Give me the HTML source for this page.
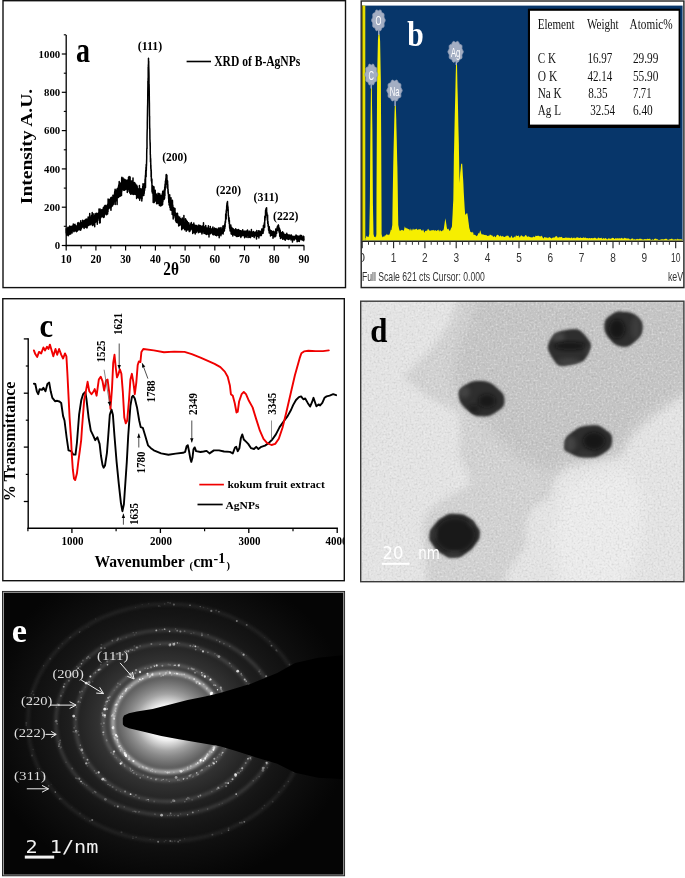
<!DOCTYPE html>
<html lang="en"><head><meta charset="utf-8"><title>Characterization of B-AgNPs</title>
<style>html,body{margin:0;padding:0;background:#fff}svg{display:block}text{white-space:pre}</style>
</head><body>
<svg width="685" height="878" viewBox="0 0 685 878">
<rect width="685" height="878" fill="#fff"/>
<g id="panel-a">
<rect x="3" y="0.7" width="342.5" height="286.9" fill="#fff" stroke="#111" stroke-width="1.4"/>
<polyline fill="none" stroke="#000" stroke-width="1.5" stroke-linejoin="round" stroke-linecap="round" points="66.2,228.8 66.3,232.9 66.3,231.9 66.4,231.2 66.5,233.4 66.6,231.9 66.6,231.8 66.7,235.2 66.8,229.8 66.9,230.6 66.9,232.9 67,232 67.1,230.7 67.2,232.1 67.2,232.1 67.3,234.4 67.4,230.4 67.5,231.2 67.5,230.9 67.6,234.4 67.7,228.1 67.8,231 67.8,232.1 67.9,227.3 68,231.3 68.1,234.1 68.1,232 68.2,235.7 68.3,229 68.4,231.9 68.4,232.5 68.5,228.9 68.6,234.3 68.7,229.9 68.7,235 68.8,232.2 68.9,233.3 68.9,227.9 69,227.2 69.1,231.4 69.2,229 69.2,231 69.3,229.5 69.4,232.1 69.5,234 69.5,234.2 69.6,229.7 69.7,225.9 69.8,229.9 69.8,231.5 69.9,226.5 70,229.8 70.1,230.1 70.1,229.7 70.2,230.5 70.3,230.8 70.4,233.1 70.4,229.1 70.5,230.3 70.6,227.6 70.7,230.8 70.7,233.9 70.8,230.2 70.9,226.4 71,230.7 71,231.7 71.1,232.3 71.2,232 71.3,230.4 71.3,232.2 71.4,226.6 71.5,230.3 71.5,229.4 71.6,226.6 71.7,226.4 71.8,230 71.8,228.8 71.9,227.9 72,229.8 72.1,233.1 72.1,228 72.2,227.4 72.3,228.4 72.4,231.2 72.4,229.6 72.5,230.4 72.6,229.8 72.7,226.4 72.7,225.8 72.8,227.6 72.9,227.9 73,227.5 73,229 73.1,229.1 73.2,230.3 73.3,229 73.3,224 73.4,226.9 73.5,229.5 73.6,229.7 73.6,230.5 73.7,227.8 73.8,227.8 73.9,231.7 73.9,227.5 74,229.7 74.1,225.4 74.2,228.1 74.2,224.7 74.3,229.4 74.4,229 74.4,227.7 74.5,226 74.6,227 74.7,230.9 74.7,227.8 74.8,228.1 74.9,229.1 75,229.5 75,224.2 75.1,228.9 75.2,229.8 75.3,226.5 75.3,227.6 75.4,228 75.5,226.1 75.6,226.7 75.6,227 75.7,225.6 75.8,227.1 75.9,229 75.9,228.4 76,228.8 76.1,227.1 76.2,229.9 76.2,231.6 76.3,227.3 76.4,230.4 76.5,231.8 76.5,226.5 76.6,228.9 76.7,226.2 76.8,228.5 76.8,229.8 76.9,230 77,228.3 77,227.8 77.1,229 77.2,227.7 77.3,230.5 77.3,227 77.4,231 77.5,227.4 77.6,225.3 77.6,224.4 77.7,223 77.8,230.3 77.9,225 77.9,224 78,224.5 78.1,228.8 78.2,225.7 78.2,222.4 78.3,230 78.4,225.4 78.5,224 78.5,228.1 78.6,225.1 78.7,228.9 78.8,228.2 78.8,228.2 78.9,225.9 79,226.5 79.1,224 79.1,228.4 79.2,226.5 79.3,223.9 79.4,224.8 79.4,229.1 79.5,224.5 79.6,227.1 79.6,225.1 79.7,225.2 79.8,223.1 79.9,225.6 79.9,230.1 80,229 80.1,224.1 80.2,226.3 80.2,223 80.3,225 80.4,227.4 80.5,223.1 80.5,227.4 80.6,230.3 80.7,220.7 80.8,229.9 80.8,223.9 80.9,223.2 81,225 81.1,229.3 81.1,222.9 81.2,228.6 81.3,228.4 81.4,226 81.4,223.3 81.5,224.4 81.6,223.1 81.7,226.1 81.7,225.4 81.8,227.6 81.9,225.7 82,223.4 82,225.5 82.1,223.6 82.2,226.1 82.2,226.1 82.3,224.6 82.4,225.1 82.5,223.2 82.5,224.1 82.6,220.3 82.7,225 82.8,225 82.8,226.9 82.9,224.3 83,222.7 83.1,226.1 83.1,224.4 83.2,222.5 83.3,224.5 83.4,225.4 83.4,221.7 83.5,223.8 83.6,223.1 83.7,221.1 83.7,221.2 83.8,224.7 83.9,225.1 84,223.1 84,224.1 84.1,228.4 84.2,220.6 84.3,223.6 84.3,221.8 84.4,226.5 84.5,220.4 84.6,225 84.6,223.7 84.7,226.9 84.8,223.8 84.8,223.9 84.9,223.8 85,222.2 85.1,223.1 85.1,220.8 85.2,224.3 85.3,225.6 85.4,223.1 85.4,221.5 85.5,219.9 85.6,221 85.7,227.3 85.7,222 85.8,219.2 85.9,222.7 86,224.1 86,222 86.1,224 86.2,221.1 86.3,222.7 86.3,219.1 86.4,221.3 86.5,224.3 86.6,221 86.6,220.1 86.7,223.8 86.8,223.4 86.9,228.1 86.9,220 87,223.7 87.1,227.6 87.2,226.6 87.2,222.7 87.3,220.2 87.4,222.3 87.4,220.8 87.5,224.8 87.6,225.4 87.7,219.6 87.7,220.6 87.8,221.9 87.9,218.5 88,224.2 88,222.8 88.1,219 88.2,216.9 88.3,221.6 88.3,217.2 88.4,223.1 88.5,220.6 88.6,221.9 88.6,225.5 88.7,220.7 88.8,218.9 88.9,221.7 88.9,221.4 89,217.6 89.1,224.4 89.2,225 89.2,222.8 89.3,224.2 89.4,217.5 89.5,220.2 89.5,223.2 89.6,222.5 89.7,213.4 89.8,222.4 89.8,222.8 89.9,220 90,219 90.1,220.1 90.1,223 90.2,223.6 90.3,219 90.3,220.7 90.4,224.8 90.5,217.4 90.6,218.4 90.6,221 90.7,221 90.8,219.7 90.9,222.1 90.9,223.8 91,219.3 91.1,223.9 91.2,219.1 91.2,223.9 91.3,220.3 91.4,220.3 91.5,215.2 91.5,222.7 91.6,223.6 91.7,221.5 91.8,222.8 91.8,221.3 91.9,218.6 92,217.6 92.1,215.2 92.1,221.6 92.2,212.5 92.3,214.2 92.4,220 92.4,225.6 92.5,219.6 92.6,219.2 92.7,225.5 92.7,219.1 92.8,219.8 92.9,221.3 92.9,217.5 93,216.4 93.1,220.4 93.2,218.4 93.2,220.8 93.3,221.1 93.4,218.7 93.5,217.5 93.5,220.4 93.6,224.8 93.7,217.2 93.8,223.1 93.8,218.4 93.9,213.8 94,218.7 94.1,221.8 94.1,222.5 94.2,215.3 94.3,218.5 94.4,217 94.4,215.9 94.5,218.5 94.6,219.2 94.7,220.9 94.7,226.7 94.8,222.4 94.9,218.4 95,218.6 95,217 95.1,218.4 95.2,217.6 95.3,215.8 95.3,220.4 95.4,218.7 95.5,222.3 95.5,215.1 95.6,217.7 95.7,216.4 95.8,213.4 95.8,214.7 95.9,217.8 96,215.4 96.1,221.5 96.1,216.2 96.2,217 96.3,221.8 96.4,213.6 96.4,219.2 96.5,215.3 96.6,218.3 96.7,214.3 96.7,213.3 96.8,219.3 96.9,221.2 97,217.2 97,214.4 97.1,217.8 97.2,218.4 97.3,215.2 97.3,224.3 97.4,218.4 97.5,220.4 97.6,215.6 97.6,218.4 97.7,219.4 97.8,217.2 97.9,220.3 97.9,216.1 98,218 98.1,217.1 98.1,218 98.2,213.3 98.3,216.1 98.4,214.3 98.4,214.3 98.5,218 98.6,214 98.7,214.5 98.7,214.6 98.8,216.6 98.9,216.6 99,213.1 99,209 99.1,217.6 99.2,213.6 99.3,216.2 99.3,212.8 99.4,213.7 99.5,211.9 99.6,223 99.6,216.6 99.7,217.6 99.8,215 99.9,216.8 99.9,216.5 100,212.5 100.1,208.9 100.2,222.7 100.2,215.3 100.3,213.4 100.4,214.2 100.5,215.2 100.5,218.1 100.6,216.9 100.7,211.9 100.7,210.8 100.8,213.6 100.9,216.3 101,213.5 101,214.5 101.1,212.1 101.2,213.3 101.3,215.4 101.3,213 101.4,217 101.5,211 101.6,209.8 101.6,216.8 101.7,212 101.8,216.1 101.9,209.9 101.9,210.4 102,213.7 102.1,210 102.2,214.2 102.2,214.8 102.3,214.5 102.4,213.2 102.5,213.6 102.5,212.2 102.6,214.4 102.7,210.2 102.8,209.4 102.8,213.9 102.9,216.6 103,210.1 103.1,208.8 103.1,212.7 103.2,216 103.3,211.2 103.4,207.4 103.4,217.6 103.5,210.4 103.6,212.8 103.6,214.4 103.7,210.2 103.8,215.6 103.9,210.7 103.9,207.5 104,211 104.1,214.1 104.2,216.8 104.2,215.3 104.3,216.9 104.4,206.3 104.5,211.9 104.5,214.3 104.6,215 104.7,214.3 104.8,212 104.8,214.8 104.9,205.6 105,213 105.1,213 105.1,209.6 105.2,206 105.3,206.3 105.4,211.8 105.4,209.4 105.5,209.7 105.6,208.4 105.7,209.1 105.7,212.8 105.8,213.7 105.9,209.1 106,213.3 106,205.2 106.1,209.3 106.2,212.6 106.2,210.3 106.3,210.8 106.4,209.5 106.5,206 106.5,213.5 106.6,214.8 106.7,207.7 106.8,209.2 106.8,208.1 106.9,207.1 107,209 107.1,205.8 107.1,211.1 107.2,208 107.3,210.8 107.4,211.6 107.4,205.9 107.5,206 107.6,214 107.7,211.3 107.7,206.6 107.8,204 107.9,209.6 108,207.9 108,211.8 108.1,199 108.2,205.5 108.3,204.1 108.3,204.8 108.4,203.8 108.5,204.8 108.6,207.8 108.6,204.1 108.7,206.2 108.8,202.2 108.8,208.7 108.9,208 109,204 109.1,201.9 109.1,205.5 109.2,208.2 109.3,206.2 109.4,207.4 109.4,199.4 109.5,202.6 109.6,201.3 109.7,204.4 109.7,207.2 109.8,201.3 109.9,199.6 110,203.1 110,205.1 110.1,201.3 110.2,206 110.3,202.2 110.3,207 110.4,207.8 110.5,202.6 110.6,203.2 110.6,197.9 110.7,205.2 110.8,204 110.9,207.8 110.9,210.2 111,209.8 111.1,202 111.2,207.5 111.2,199.5 111.3,198.4 111.4,204 111.4,197.3 111.5,202 111.6,198.8 111.7,203.3 111.7,199.1 111.8,205.5 111.9,200 112,203.6 112,202.3 112.1,199.6 112.2,201 112.3,201.7 112.3,198.8 112.4,198.4 112.5,205.9 112.6,199 112.6,198.5 112.7,203.3 112.8,199.2 112.9,205.1 112.9,195.2 113,201 113.1,200.3 113.2,195.6 113.2,200.3 113.3,197.5 113.4,203.2 113.5,201.4 113.5,204.2 113.6,199.8 113.7,195.3 113.8,198 113.8,195.5 113.9,202.2 114,201.6 114,200 114.1,196.1 114.2,196.7 114.3,198 114.3,195.5 114.4,198.2 114.5,197.6 114.6,192.6 114.6,199.4 114.7,196.4 114.8,191.1 114.9,196.5 114.9,194.1 115,198.8 115.1,189.3 115.2,204.6 115.2,200.3 115.3,199.9 115.4,189.9 115.5,194.5 115.5,196.6 115.6,200.3 115.7,194 115.8,194.8 115.8,197.7 115.9,200.5 116,199 116.1,193.9 116.1,193.4 116.2,194.2 116.3,194.9 116.4,200.8 116.4,193.9 116.5,197.8 116.6,193.6 116.6,191.9 116.7,196.1 116.8,197.3 116.9,189.5 116.9,191.9 117,195.5 117.1,204.4 117.2,193 117.2,190.4 117.3,188.4 117.4,195.1 117.5,194.9 117.5,194 117.6,189 117.7,196.6 117.8,192.4 117.8,195.4 117.9,190.7 118,197.6 118.1,190.1 118.1,193.4 118.2,192.2 118.3,189.2 118.4,186.7 118.4,197.6 118.5,187 118.6,188.6 118.7,191.8 118.7,185.1 118.8,189.7 118.9,185.3 119,192.6 119,193.5 119.1,185.2 119.2,181.5 119.3,187.3 119.3,186.2 119.4,191.4 119.5,194.7 119.5,190.3 119.6,183.4 119.7,196.5 119.8,191 119.8,196.5 119.9,188.4 120,185.3 120.1,193.5 120.1,190.1 120.2,183.1 120.3,188.6 120.4,193.1 120.4,193.3 120.5,195.9 120.6,184.8 120.7,190.7 120.7,183.4 120.8,184.1 120.9,190 121,189.4 121,184.1 121.1,186.5 121.2,185.9 121.3,193.5 121.3,183.1 121.4,190.1 121.5,195.6 121.6,188.9 121.6,184.6 121.7,177.7 121.8,187.6 121.9,191.3 121.9,177.3 122,185.1 122.1,186.7 122.1,189.9 122.2,189.5 122.3,179.3 122.4,186.3 122.4,187.3 122.5,187.1 122.6,178.5 122.7,187.2 122.7,182.2 122.8,183.6 122.9,183.7 123,188.2 123,181.9 123.1,178 123.2,184.7 123.3,188.2 123.3,189.7 123.4,183.6 123.5,185.5 123.6,184.8 123.6,184.3 123.7,190.3 123.8,181 123.9,183.2 123.9,184.5 124,183.2 124.1,180.3 124.2,183.8 124.2,187.5 124.3,179.2 124.4,185.7 124.5,186.9 124.5,190.3 124.6,183.8 124.7,188.1 124.7,185.9 124.8,181.9 124.9,183.6 125,179.5 125,182.4 125.1,185.2 125.2,184.9 125.3,185.6 125.3,180.8 125.4,183.3 125.5,185.1 125.6,179.9 125.6,182.9 125.7,185.3 125.8,189.6 125.9,181.6 125.9,182.4 126,183.2 126.1,185.2 126.2,186.9 126.2,184.4 126.3,182.5 126.4,184 126.5,184.1 126.5,185.4 126.6,182.1 126.7,182.6 126.8,186.7 126.8,180.4 126.9,180.3 127,180.3 127.1,184.2 127.1,184.4 127.2,188.4 127.3,180.6 127.3,192.5 127.4,185.3 127.5,185.1 127.6,180.2 127.6,183.7 127.7,187.7 127.8,189.6 127.9,186.8 127.9,183.4 128,183.6 128.1,184.6 128.2,186.7 128.2,184.7 128.3,179.8 128.4,188.4 128.5,183.8 128.5,177.3 128.6,181.7 128.7,185.9 128.8,181.4 128.8,187.2 128.9,184.2 129,178 129.1,176.6 129.1,191.4 129.2,181.7 129.3,176.7 129.4,186.9 129.4,183.7 129.5,178.7 129.6,186.9 129.7,183.1 129.7,185.3 129.8,192.9 129.9,183.8 129.9,186 130,181.6 130.1,176.9 130.2,182.7 130.2,187 130.3,183.8 130.4,184.9 130.5,181.7 130.5,191.6 130.6,190.6 130.7,194.2 130.8,183.6 130.8,186.2 130.9,188.8 131,189.2 131.1,188.6 131.1,190.1 131.2,187.8 131.3,188.5 131.4,181.1 131.4,185.4 131.5,190.1 131.6,189.2 131.7,182.1 131.7,185.2 131.8,185.9 131.9,184.3 132,180.9 132,192.1 132.1,190.3 132.2,194.3 132.3,185.5 132.3,189.1 132.4,190.3 132.5,190.7 132.5,185 132.6,188.4 132.7,190 132.8,183 132.8,192.2 132.9,193.1 133,178 133.1,189.7 133.1,190.5 133.2,191.3 133.3,189 133.4,185.5 133.4,185.7 133.5,186.5 133.6,189.8 133.7,194.6 133.7,187.8 133.8,183 133.9,184.8 134,189.7 134,186 134.1,190.7 134.2,189.5 134.3,194.2 134.3,190.6 134.4,188.9 134.5,190.2 134.6,186.6 134.6,182.4 134.7,184.7 134.8,191 134.9,192.8 134.9,192.6 135,193.9 135.1,190.1 135.2,188.7 135.2,189.7 135.3,189.7 135.4,189.9 135.4,191.1 135.5,193.5 135.6,184.1 135.7,186.8 135.7,194.4 135.8,194.5 135.9,193.3 136,191 136,186.4 136.1,187.4 136.2,187.3 136.3,187.3 136.3,187.3 136.4,188.8 136.5,190 136.6,192.2 136.6,198.4 136.7,192.4 136.8,185.2 136.9,194.1 136.9,194.5 137,188.4 137.1,192 137.2,194.2 137.2,186.6 137.3,190.2 137.4,189.7 137.5,194.7 137.5,190.8 137.6,191.4 137.7,189.9 137.8,188.6 137.8,188.8 137.9,192.4 138,190.5 138,197.4 138.1,190.9 138.2,190.8 138.3,194.8 138.3,196.3 138.4,193.7 138.5,198 138.6,192.4 138.6,192.6 138.7,197.2 138.8,193.6 138.9,189.9 138.9,190 139,190.3 139.1,194.6 139.2,195.3 139.2,195.6 139.3,192 139.4,185.6 139.5,189.2 139.5,188.6 139.6,189.5 139.7,200.3 139.8,195.2 139.8,196.1 139.9,190 140,188.5 140.1,197 140.1,194.5 140.2,192.7 140.3,196.5 140.4,197.1 140.4,197.3 140.5,191.7 140.6,198.1 140.6,190.7 140.7,194.4 140.8,192 140.9,189.1 140.9,197 141,197.5 141.1,193 141.2,198.2 141.2,197 141.3,194.8 141.4,193.8 141.5,198.7 141.5,195.6 141.6,192 141.7,189.2 141.8,201 141.8,189.2 141.9,190.7 142,197.6 142.1,198.9 142.1,192.1 142.2,195 142.3,192.9 142.4,190.2 142.4,194.5 142.5,192.5 142.6,191.2 142.7,189.6 142.7,186.4 142.8,186.5 142.9,191.5 143,193.1 143,183.7 143.1,189.7 143.2,190.2 143.2,195.5 143.3,188.6 143.4,193.9 143.5,192.6 143.5,195.5 143.6,192.4 143.7,190.1 143.8,195.4 143.8,193 143.9,189.8 144,193.7 144.1,193.4 144.1,191.6 144.2,193.3 144.3,185.8 144.4,191.1 144.4,184.5 144.5,183.6 144.6,190.6 144.7,185.8 144.7,187.2 144.8,189 144.9,185.6 145,184.7 145,180.8 145.1,179.1 145.2,185.8 145.3,182.7 145.3,178.7 145.4,175.6 145.5,187.4 145.6,173.5 145.6,177.6 145.7,170.6 145.8,176.4 145.8,176.7 145.9,172.4 146,167.2 146.1,169.8 146.1,176.7 146.2,164.4 146.3,170.8 146.4,166.8 146.4,165.5 146.5,165.8 146.6,161.5 146.7,158.3 146.7,154.4 146.8,149.8 146.9,147.9 147,148.8 147,141 147.1,133.4 147.2,129.8 147.3,128.7 147.3,122.9 147.4,117.5 147.5,111.3 147.6,105.4 147.6,107.5 147.7,102.3 147.8,91.2 147.9,85.8 147.9,80.9 148,89.7 148.1,77.8 148.2,84.3 148.2,66.9 148.3,66.4 148.4,64.3 148.5,63.6 148.5,58.2 148.6,64.2 148.7,60.9 148.7,64.7 148.8,68.3 148.9,71.5 149,76.8 149,85.5 149.1,84 149.2,89 149.3,97.1 149.3,99.1 149.4,103.6 149.5,116.2 149.6,117 149.6,122.6 149.7,128.6 149.8,128.5 149.9,136.6 149.9,138.9 150,140 150.1,143 150.2,146.2 150.2,142.4 150.3,154.7 150.4,154.6 150.5,162.1 150.5,158.4 150.6,158.2 150.7,159.9 150.8,168.2 150.8,168.6 150.9,164.9 151,171.1 151.1,168.9 151.1,176.9 151.2,170 151.3,172.4 151.3,175.4 151.4,180.9 151.5,179.6 151.6,179.5 151.6,180 151.7,182.1 151.8,183.2 151.9,182.5 151.9,179.1 152,191.5 152.1,190 152.2,191.1 152.2,188.7 152.3,192.9 152.4,185.5 152.5,187.6 152.5,189.3 152.6,191.2 152.7,188.7 152.8,189 152.8,188.9 152.9,192.9 153,188.5 153.1,196.2 153.1,187.1 153.2,202.4 153.3,194.1 153.4,196.5 153.4,189.9 153.5,198 153.6,186.8 153.7,198.7 153.7,186.6 153.8,192.3 153.9,193.9 153.9,192.8 154,186.9 154.1,191.6 154.2,202.5 154.2,190.9 154.3,194.4 154.4,200.9 154.5,192.9 154.5,199.9 154.6,195.2 154.7,195.2 154.8,198.4 154.8,194 154.9,199.9 155,195.9 155.1,198.5 155.1,197.4 155.2,190.3 155.3,196.6 155.4,200.9 155.4,197.6 155.5,200 155.6,197.4 155.7,197 155.7,197.3 155.8,197.4 155.9,199.7 156,196.4 156,194.4 156.1,200.2 156.2,198.4 156.3,198 156.3,194 156.4,194.7 156.5,201 156.5,198.3 156.6,203.7 156.7,202 156.8,198.7 156.8,196.6 156.9,195.6 157,200 157.1,203.6 157.1,197.7 157.2,199.7 157.3,197.7 157.4,198.6 157.4,196.8 157.5,197 157.6,196.4 157.7,200.9 157.7,196 157.8,201.1 157.9,199.2 158,193.2 158,198.3 158.1,203.6 158.2,194.5 158.3,196.2 158.3,195.8 158.4,199 158.5,198.6 158.6,200.6 158.6,202.2 158.7,194.6 158.8,201.1 158.9,201.5 158.9,201.4 159,193.6 159.1,196.9 159.1,201.2 159.2,200.1 159.3,198.2 159.4,197 159.4,205.5 159.5,196.9 159.6,200.7 159.7,202.3 159.7,201.3 159.8,197.3 159.9,194 160,199.5 160,198.1 160.1,202.8 160.2,198.3 160.3,197.2 160.3,205 160.4,201.7 160.5,197.3 160.6,205.9 160.6,201.2 160.7,197.9 160.8,205.6 160.9,201.2 160.9,199.7 161,196.8 161.1,204.1 161.2,196 161.2,198.7 161.3,195.6 161.4,195.7 161.5,198.4 161.5,197.9 161.6,205.4 161.7,204 161.7,202.8 161.8,200.5 161.9,196.1 162,205.2 162,200.2 162.1,203.5 162.2,204.2 162.3,193.9 162.3,198.4 162.4,193.2 162.5,194.6 162.6,201.6 162.6,204.6 162.7,191.3 162.8,199.5 162.9,201.9 162.9,195.6 163,197.3 163.1,199.9 163.2,198.7 163.2,196.9 163.3,197 163.4,194.6 163.5,198.1 163.5,197.9 163.6,194.5 163.7,195.3 163.8,192.5 163.8,196.7 163.9,196 164,199.2 164.1,190.1 164.1,199.4 164.2,193.8 164.3,197.1 164.4,192.7 164.4,190.9 164.5,198.4 164.6,193.3 164.6,197.9 164.7,187 164.8,192.6 164.9,195.8 164.9,192.4 165,185.2 165.1,184 165.2,184.1 165.2,190.2 165.3,187.5 165.4,180.9 165.5,188 165.5,186 165.6,187.3 165.7,187.3 165.8,178.8 165.8,180 165.9,179.9 166,178.9 166.1,176.8 166.1,174.7 166.2,179.1 166.3,179.8 166.4,181.6 166.4,174.5 166.5,179.5 166.6,182.6 166.7,178.6 166.7,177.8 166.8,175.4 166.9,175.1 167,181.2 167,181.9 167.1,180.9 167.2,184.4 167.2,181.5 167.3,180.4 167.4,182.5 167.5,188.6 167.5,188.1 167.6,180.9 167.7,189.2 167.8,184.4 167.8,185.6 167.9,189.4 168,192.4 168.1,189.3 168.1,193.6 168.2,192.1 168.3,191.9 168.4,195.2 168.4,194.3 168.5,195.2 168.6,198.8 168.7,196.1 168.7,198.1 168.8,202.4 168.9,198.2 169,198.5 169,200 169.1,205.1 169.2,196.5 169.3,197.3 169.3,197.8 169.4,199.2 169.5,204.6 169.6,200.6 169.6,204.2 169.7,194.7 169.8,203.6 169.8,200.2 169.9,207.4 170,206.5 170.1,204.8 170.1,201.2 170.2,201.9 170.3,203 170.4,209.9 170.4,200.8 170.5,207.5 170.6,199.8 170.7,199.2 170.7,202.6 170.8,202.3 170.9,209.5 171,197.8 171,205.3 171.1,203 171.2,209 171.3,206.7 171.3,210.3 171.4,207.5 171.5,206.9 171.6,206.3 171.6,202.9 171.7,205.9 171.8,206.8 171.9,207.7 171.9,201.8 172,210 172.1,204.8 172.2,214.6 172.2,211.5 172.3,207.8 172.4,209.7 172.4,200.3 172.5,201.8 172.6,214.3 172.7,213.2 172.7,210.5 172.8,205.1 172.9,207.1 173,209.7 173,215 173.1,213.5 173.2,219.1 173.3,215.9 173.3,210.2 173.4,209.3 173.5,215.7 173.6,211.7 173.6,207.4 173.7,211.9 173.8,213.4 173.9,210.9 173.9,211.3 174,212.7 174.1,214.7 174.2,214.5 174.2,213.2 174.3,215.2 174.4,209.9 174.5,211.4 174.5,211 174.6,208.5 174.7,209.9 174.8,210.5 174.8,213.6 174.9,215.4 175,208.5 175,217 175.1,217 175.2,217.9 175.3,215 175.3,214.6 175.4,213 175.5,216.7 175.6,221 175.6,215.5 175.7,213.8 175.8,216.5 175.9,217.1 175.9,215.4 176,213.2 176.1,217.4 176.2,221.2 176.2,219 176.3,218 176.4,222.5 176.5,215.6 176.5,219.8 176.6,216.4 176.7,217.4 176.8,218.8 176.8,213.7 176.9,219.6 177,220 177.1,217.5 177.1,216.1 177.2,218.4 177.3,221.1 177.4,216.7 177.4,217 177.5,213.2 177.6,219.4 177.7,218.3 177.7,220.4 177.8,222.9 177.9,218.9 177.9,216.9 178,221.9 178.1,221.1 178.2,222.4 178.2,215.9 178.3,221.2 178.4,218 178.5,221.9 178.5,219.5 178.6,221.4 178.7,226 178.8,219.7 178.8,218.6 178.9,225.5 179,220.6 179.1,221.3 179.1,223 179.2,221 179.3,225.4 179.4,219.8 179.4,217.5 179.5,223.8 179.6,220.8 179.7,217.1 179.7,220.5 179.8,222.2 179.9,223.3 180,220.5 180,221.4 180.1,219.5 180.2,225.1 180.3,218.5 180.3,222.4 180.4,219.8 180.5,223.3 180.5,224.8 180.6,223 180.7,224.1 180.8,222.7 180.8,220.2 180.9,219.1 181,221.4 181.1,223.3 181.1,223.2 181.2,220.6 181.3,219.4 181.4,223.1 181.4,222.6 181.5,224.3 181.6,221.9 181.7,220.1 181.7,229.8 181.8,222 181.9,224.1 182,228.5 182,222.1 182.1,223.1 182.2,222.1 182.3,226.4 182.3,217.9 182.4,222.9 182.5,224.1 182.6,219.6 182.6,221.8 182.7,221.4 182.8,220.7 182.9,228.6 182.9,219.6 183,224.5 183.1,223.1 183.1,221.6 183.2,225.6 183.3,223.2 183.4,222.2 183.4,224.2 183.5,223 183.6,228 183.7,227.1 183.7,227.1 183.8,223.5 183.9,215.6 184,223.9 184,224.9 184.1,224.8 184.2,222.4 184.3,223.1 184.3,227.5 184.4,222.5 184.5,225 184.6,223.1 184.6,229.8 184.7,228.8 184.8,223.8 184.9,229.5 184.9,224.4 185,224.6 185.1,225.1 185.2,224.7 185.2,224.9 185.3,224.5 185.4,226.5 185.5,225.6 185.5,218.8 185.6,223 185.7,224.2 185.7,224.7 185.8,227.4 185.9,225.2 186,226.3 186,223.5 186.1,227.9 186.2,231.2 186.3,227.1 186.3,224.2 186.4,220.2 186.5,223.5 186.6,228.1 186.6,226.4 186.7,228.1 186.8,226.4 186.9,228 186.9,229.7 187,225 187.1,225.6 187.2,226.4 187.2,225.2 187.3,221.4 187.4,225.8 187.5,227 187.5,224.1 187.6,229.9 187.7,224.4 187.8,227.9 187.8,228.1 187.9,226 188,222.4 188.1,228 188.1,224.1 188.2,225.4 188.3,229.5 188.3,224.2 188.4,228.2 188.5,229.7 188.6,228.2 188.6,228.1 188.7,225.1 188.8,228.1 188.9,223.1 188.9,226 189,228.1 189.1,228.4 189.2,226 189.2,231.1 189.3,231.5 189.4,228.6 189.5,225.2 189.5,226.2 189.6,226.6 189.7,227.1 189.8,231.6 189.8,227.4 189.9,230.7 190,224.9 190.1,226.8 190.1,227 190.2,225.9 190.3,226.1 190.4,226.3 190.4,226.1 190.5,228.2 190.6,229.9 190.7,226.1 190.7,223.7 190.8,224.7 190.9,227.4 190.9,225.6 191,228 191.1,226.2 191.2,228.4 191.2,226.7 191.3,222.6 191.4,225.4 191.5,223.8 191.5,228.9 191.6,228.7 191.7,227.3 191.8,225.9 191.8,227.7 191.9,225 192,228.5 192.1,224.2 192.1,225.1 192.2,229.8 192.3,226 192.4,227.8 192.4,225.1 192.5,228.6 192.6,226.7 192.7,226.2 192.7,233.5 192.8,231.6 192.9,227.2 193,227.8 193,225.2 193.1,227 193.2,230.3 193.3,226.8 193.3,229.2 193.4,228.1 193.5,228.7 193.6,226.8 193.6,230.8 193.7,230.1 193.8,232.6 193.8,223 193.9,229.9 194,229.6 194.1,230.3 194.1,229.2 194.2,228.7 194.3,226.4 194.4,227.4 194.4,227.1 194.5,229.1 194.6,228 194.7,225.2 194.7,228 194.8,227.3 194.9,232.4 195,226.8 195,227.4 195.1,225.2 195.2,234 195.3,228 195.3,228.3 195.4,227.9 195.5,229.5 195.6,227.7 195.6,226.6 195.7,228.1 195.8,228.8 195.9,228.7 195.9,229.1 196,228.2 196.1,229.8 196.2,232.6 196.2,225.4 196.3,232.1 196.4,228.6 196.4,231.2 196.5,229 196.6,230.5 196.7,228.5 196.7,230.3 196.8,231.3 196.9,227.8 197,225.6 197,227.8 197.1,228.3 197.2,230.8 197.3,228.8 197.3,227.6 197.4,230 197.5,226.7 197.6,228.7 197.6,227.9 197.7,229.8 197.8,229.8 197.9,228.3 197.9,227.9 198,228 198.1,231 198.2,230.4 198.2,228.9 198.3,232.8 198.4,226.6 198.5,228.2 198.5,228.8 198.6,230.4 198.7,227.2 198.8,229.5 198.8,224.9 198.9,228.2 199,232.2 199,227.5 199.1,230.2 199.2,230.2 199.3,229.6 199.3,229.4 199.4,228.6 199.5,227.5 199.6,228.2 199.6,230.7 199.7,232 199.8,230.9 199.9,228.5 199.9,227.4 200,225.5 200.1,232.1 200.2,229.1 200.2,229.8 200.3,230.2 200.4,229.1 200.5,229.9 200.5,229.9 200.6,230.8 200.7,228.6 200.8,227.2 200.8,226 200.9,230.6 201,231.7 201.1,230 201.1,231.3 201.2,227.4 201.3,231.2 201.4,229.4 201.4,232.4 201.5,230.3 201.6,229.2 201.6,226.4 201.7,231.1 201.8,228.9 201.9,234 201.9,232.2 202,231.4 202.1,230.7 202.2,228.8 202.2,228.4 202.3,233.1 202.4,228.7 202.5,232.1 202.5,226 202.6,229.2 202.7,229.5 202.8,230.2 202.8,229.9 202.9,229.9 203,231.3 203.1,228.4 203.1,229.4 203.2,228.4 203.3,230.1 203.4,228.6 203.4,231.5 203.5,222.7 203.6,231.5 203.7,230.9 203.7,228.1 203.8,227.5 203.9,231.7 204,233.5 204,233 204.1,232.2 204.2,231.7 204.2,230.5 204.3,228.1 204.4,228 204.5,231.4 204.5,229.1 204.6,228.4 204.7,227.4 204.8,230.6 204.8,231.8 204.9,228.8 205,227.2 205.1,231.4 205.1,226.4 205.2,226.9 205.3,230.9 205.4,233.6 205.4,231.6 205.5,231.1 205.6,229.3 205.7,233.8 205.7,225.5 205.8,225.7 205.9,231.9 206,234.3 206,230.9 206.1,229.7 206.2,227.8 206.3,229.1 206.3,231 206.4,234.6 206.5,229.6 206.6,228.9 206.6,231.3 206.7,230.1 206.8,230.3 206.8,231.2 206.9,233 207,230 207.1,233.6 207.1,227.9 207.2,232.6 207.3,229.8 207.4,232.2 207.4,230 207.5,231.2 207.6,229.8 207.7,232.4 207.7,234.1 207.8,231.4 207.9,231.6 208,233.9 208,232.3 208.1,234.3 208.2,230.7 208.3,231.7 208.3,230.9 208.4,225.8 208.5,230.7 208.6,230.3 208.6,229.8 208.7,231.3 208.8,232.2 208.9,229.3 208.9,229 209,236.9 209.1,231.4 209.2,231.8 209.2,232.3 209.3,228.7 209.4,232.2 209.5,229.5 209.5,232.3 209.6,232 209.7,229.8 209.7,232.7 209.8,231.6 209.9,233.4 210,233 210,229.9 210.1,230.2 210.2,233.6 210.3,233.7 210.3,226.4 210.4,232.6 210.5,233.1 210.6,230.4 210.6,232.9 210.7,232.1 210.8,229.7 210.9,229.5 210.9,231.8 211,228.9 211.1,231.8 211.2,232 211.2,231.5 211.3,232.1 211.4,230.5 211.5,231 211.5,233.1 211.6,231.2 211.7,232.6 211.8,232.7 211.8,231.9 211.9,229.7 212,231.1 212.1,229.2 212.1,228.6 212.2,231.7 212.3,232.9 212.3,233.2 212.4,231.2 212.5,230.1 212.6,228.7 212.6,234.3 212.7,230 212.8,229.7 212.9,227.1 212.9,231.4 213,231.9 213.1,234.7 213.2,233.3 213.2,234 213.3,233.8 213.4,233.6 213.5,234.8 213.5,232.1 213.6,231.2 213.7,230.5 213.8,232.1 213.8,229.9 213.9,229.9 214,234.8 214.1,232.5 214.1,234.3 214.2,233.8 214.3,231.6 214.4,232.2 214.4,229.2 214.5,228.1 214.6,231.2 214.7,232.4 214.7,232.3 214.8,232.1 214.9,231 214.9,233.5 215,231 215.1,232.5 215.2,230.1 215.2,229.5 215.3,228.8 215.4,232.4 215.5,234.7 215.5,235.3 215.6,232.7 215.7,234.8 215.8,235.2 215.8,232.8 215.9,234 216,230.8 216.1,228.5 216.1,232.6 216.2,231.6 216.3,235.1 216.4,231.8 216.4,233.5 216.5,234.2 216.6,235.7 216.7,229.2 216.7,235.2 216.8,234.4 216.9,232.2 217,231.6 217,231.6 217.1,232 217.2,233.8 217.3,230.7 217.3,231.8 217.4,234.9 217.5,229.2 217.5,232.8 217.6,230.4 217.7,234.9 217.8,234.4 217.8,233.2 217.9,233.5 218,230.3 218.1,235.2 218.1,231.9 218.2,234.1 218.3,231.2 218.4,231.8 218.4,233.2 218.5,228 218.6,232.2 218.7,230.1 218.7,234.6 218.8,232.4 218.9,232 219,231.9 219,232.8 219.1,233.7 219.2,237.8 219.3,233.2 219.3,233.8 219.4,232.6 219.5,230.5 219.6,228 219.6,231.1 219.7,230.2 219.8,230.9 219.9,230.7 219.9,230.9 220,232.5 220.1,232.6 220.1,231.4 220.2,228.7 220.3,230.5 220.4,229 220.4,234.3 220.5,231.4 220.6,231.2 220.7,230.9 220.7,234.3 220.8,235.2 220.9,235.7 221,232.5 221,227.5 221.1,231.3 221.2,233.9 221.3,231 221.3,232.2 221.4,231.3 221.5,232.4 221.6,233.9 221.6,232.5 221.7,230.2 221.8,230.9 221.9,229.2 221.9,233.3 222,229.4 222.1,231.1 222.2,230.8 222.2,228.9 222.3,231.3 222.4,230.5 222.5,229.7 222.5,229.7 222.6,229.3 222.7,228.3 222.8,229.6 222.8,231.3 222.9,226 223,230.3 223,229.5 223.1,231.4 223.2,233.9 223.3,231.3 223.3,229.6 223.4,228.6 223.5,229.4 223.6,227.9 223.6,227.4 223.7,227.2 223.8,228.9 223.9,228.5 223.9,228.9 224,229.9 224.1,225.5 224.2,230.2 224.2,227.8 224.3,227.1 224.4,231.1 224.5,225.6 224.5,227.3 224.6,226 224.7,226.7 224.8,228.5 224.8,225.1 224.9,224.9 225,222.9 225.1,223.4 225.1,226.9 225.2,221.4 225.3,221.4 225.4,220.9 225.4,220.9 225.5,222.5 225.6,219.6 225.6,220.6 225.7,214 225.8,218.9 225.9,219.7 225.9,217.5 226,213.5 226.1,216.3 226.2,218.7 226.2,210.7 226.3,211.8 226.4,212.4 226.5,209.2 226.5,211.2 226.6,210.7 226.7,206 226.8,207.8 226.8,205.1 226.9,205.3 227,203.2 227.1,204 227.1,207.6 227.2,202.4 227.3,204.4 227.4,202 227.4,203.7 227.5,201.6 227.6,205.3 227.7,209 227.7,206.6 227.8,205.9 227.9,208.3 228,209.4 228,206.9 228.1,210.8 228.2,209.6 228.2,212.2 228.3,216 228.4,216 228.5,215.8 228.5,215.5 228.6,218.4 228.7,220.3 228.8,220.3 228.8,220.2 228.9,221.5 229,221.6 229.1,217.8 229.1,221.3 229.2,223.8 229.3,222.9 229.4,220.5 229.4,222.6 229.5,224.4 229.6,227.1 229.7,228.1 229.7,226 229.8,226 229.9,229 230,228.8 230,226.8 230.1,231 230.2,230.3 230.3,227.6 230.3,226.7 230.4,227.3 230.5,226.3 230.6,225.5 230.6,226.9 230.7,229.2 230.8,225 230.8,226 230.9,227.5 231,230.8 231.1,228.7 231.1,233.4 231.2,230.3 231.3,234.3 231.4,230.7 231.4,228.2 231.5,230.1 231.6,227.3 231.7,230.3 231.7,230.2 231.8,231.1 231.9,229.6 232,230.7 232,228.6 232.1,227.9 232.2,230.2 232.3,233 232.3,230 232.4,228.6 232.5,230 232.6,230.7 232.6,229.6 232.7,228.9 232.8,236.1 232.9,228.7 232.9,230.1 233,230.6 233.1,232.6 233.2,231.2 233.2,230.5 233.3,234.4 233.4,230.4 233.4,231.6 233.5,229.1 233.6,230.6 233.7,232.2 233.7,231.8 233.8,230.8 233.9,231.7 234,231 234,233.3 234.1,234.3 234.2,233.1 234.3,234.7 234.3,233.5 234.4,231.5 234.5,235.1 234.6,234.4 234.6,230.9 234.7,233.2 234.8,232.3 234.9,234.6 234.9,234.2 235,232.9 235.1,229.5 235.2,231.6 235.2,235.5 235.3,231.7 235.4,230.8 235.5,231.3 235.5,234.8 235.6,232.7 235.7,228.8 235.8,234.3 235.8,232 235.9,234 236,235 236,233.5 236.1,230.9 236.2,230.6 236.3,234.3 236.3,233.6 236.4,234.4 236.5,236.5 236.6,231.7 236.6,230 236.7,230.2 236.8,233.7 236.9,230.5 236.9,230.9 237,233.5 237.1,232.9 237.2,233.6 237.2,232.5 237.3,229.7 237.4,234.6 237.5,235.1 237.5,231.4 237.6,232.9 237.7,236.4 237.8,234.8 237.8,234.5 237.9,234.1 238,232.5 238.1,231.3 238.1,233.4 238.2,232.8 238.3,234.4 238.4,231.3 238.4,230.7 238.5,233.6 238.6,234.5 238.7,229.5 238.7,231.5 238.8,234.8 238.9,236.2 238.9,233.7 239,231.1 239.1,234.2 239.2,233.7 239.2,234.1 239.3,232.1 239.4,230.8 239.5,235.5 239.5,233.8 239.6,233.7 239.7,234.4 239.8,235.4 239.8,231.9 239.9,233.1 240,232.1 240.1,230.7 240.1,234 240.2,232.4 240.3,234.1 240.4,233.6 240.4,232.8 240.5,233.7 240.6,236.1 240.7,230.8 240.7,233.2 240.8,235.5 240.9,237.4 241,233.5 241,232.3 241.1,231.7 241.2,231.5 241.3,234.2 241.3,232.4 241.4,236.2 241.5,233.3 241.5,231.9 241.6,234.6 241.7,233.8 241.8,233.4 241.8,233.3 241.9,230.9 242,235.5 242.1,231.2 242.1,235.8 242.2,234.8 242.3,235 242.4,233.8 242.4,234.5 242.5,232.8 242.6,233.6 242.7,229.8 242.7,233 242.8,234.1 242.9,233 243,232.6 243,234 243.1,235.6 243.2,235.1 243.3,233.4 243.3,232.2 243.4,232.9 243.5,233.9 243.6,232.7 243.6,234.6 243.7,233.3 243.8,231.3 243.9,231.8 243.9,231.4 244,234.4 244.1,233.4 244.1,235.6 244.2,232.2 244.3,234.5 244.4,236.1 244.4,234.7 244.5,233.4 244.6,237.7 244.7,236.3 244.7,232.1 244.8,233.7 244.9,233.9 245,236.7 245,231.1 245.1,232.1 245.2,232.7 245.3,235.8 245.3,232.9 245.4,231.9 245.5,234.5 245.6,234.3 245.6,234.7 245.7,232.9 245.8,234.3 245.9,234.5 245.9,236.5 246,236.8 246.1,232.3 246.2,231.2 246.2,232.5 246.3,231.5 246.4,234.9 246.5,234.1 246.5,233.3 246.6,234.3 246.7,231.1 246.7,236.3 246.8,235 246.9,234.6 247,235.3 247,232.6 247.1,237.5 247.2,232.1 247.3,232.5 247.3,233.5 247.4,231.6 247.5,230 247.6,233.8 247.6,232.8 247.7,233.4 247.8,233.2 247.9,235 247.9,235.3 248,233 248.1,235 248.2,232.5 248.2,232.7 248.3,234.9 248.4,233.5 248.5,234 248.5,234.4 248.6,232.2 248.7,234.1 248.8,233.7 248.8,237.5 248.9,233.1 249,236.6 249.1,234.8 249.1,231.4 249.2,231.1 249.3,234.8 249.3,236.3 249.4,233.5 249.5,234.8 249.6,233.6 249.6,236.5 249.7,232.3 249.8,231.5 249.9,236.7 249.9,235.5 250,235.4 250.1,232.9 250.2,237.6 250.2,233.8 250.3,234.6 250.4,235.6 250.5,233 250.5,237.6 250.6,236.6 250.7,235.6 250.8,233 250.8,234.8 250.9,235.7 251,233.4 251.1,235.1 251.1,235.3 251.2,234.8 251.3,233.7 251.4,229.6 251.4,236.1 251.5,233.8 251.6,234.5 251.7,234.7 251.7,231.7 251.8,232.9 251.9,233.1 252,235 252,235.7 252.1,233.8 252.2,234.7 252.2,235.2 252.3,233.1 252.4,236.3 252.5,235.5 252.5,232.9 252.6,234.4 252.7,233.1 252.8,235.7 252.8,233.1 252.9,235.5 253,232 253.1,232.9 253.1,233.5 253.2,231.7 253.3,233.7 253.4,235.3 253.4,231.6 253.5,233.7 253.6,232.2 253.7,234 253.7,232.3 253.8,235.7 253.9,236.4 254,236.6 254,233 254.1,237.6 254.2,237.3 254.3,236.7 254.3,233.9 254.4,233.5 254.5,235.6 254.6,232.9 254.6,233.7 254.7,232.2 254.8,232.7 254.8,235.4 254.9,233.9 255,234.5 255.1,233.5 255.1,233.9 255.2,234.2 255.3,233 255.4,234.1 255.4,233 255.5,234.2 255.6,234.5 255.7,232.7 255.7,232.6 255.8,232.1 255.9,233.2 256,234.6 256,233.9 256.1,233.9 256.2,237.1 256.3,236.1 256.3,231.6 256.4,234.3 256.5,239 256.6,234.4 256.6,233.9 256.7,236.2 256.8,230.4 256.9,232.3 256.9,232.8 257,234.5 257.1,233.3 257.2,232.7 257.2,233.3 257.3,235.2 257.4,233.8 257.4,233.9 257.5,233.6 257.6,235.8 257.7,233.6 257.7,234.1 257.8,233.7 257.9,233.7 258,236.4 258,232.6 258.1,232.8 258.2,236.3 258.3,234.2 258.3,235.4 258.4,234.7 258.5,232.3 258.6,233.1 258.6,230.7 258.7,233.8 258.8,235.8 258.9,233.7 258.9,237.9 259,230.9 259.1,233.4 259.2,233.1 259.2,233.6 259.3,235.2 259.4,234 259.5,235.1 259.5,234.6 259.6,233.2 259.7,235.7 259.8,231 259.8,235.4 259.9,232.3 260,234.7 260,235.6 260.1,232.9 260.2,233.2 260.3,233.9 260.3,233.5 260.4,234.4 260.5,232.7 260.6,234.1 260.6,233.3 260.7,231.4 260.8,235.4 260.9,234.1 260.9,234.2 261,234.4 261.1,235.2 261.2,233.4 261.2,232.6 261.3,233 261.4,235.4 261.5,231.6 261.5,231.4 261.6,232.4 261.7,234.1 261.8,233.8 261.8,229.1 261.9,229.3 262,231.3 262.1,233.5 262.1,229.8 262.2,231.5 262.3,228.9 262.4,232.5 262.4,230.6 262.5,231.6 262.6,229.9 262.6,232 262.7,229.3 262.8,231.3 262.9,231.9 262.9,229.3 263,229.7 263.1,233.3 263.2,229.7 263.2,229.3 263.3,228.9 263.4,225.6 263.5,229.7 263.5,228.4 263.6,230.9 263.7,230.2 263.8,228.4 263.8,227.4 263.9,227.1 264,225.4 264.1,224.8 264.1,223.9 264.2,225.4 264.3,223.8 264.4,225.3 264.4,223 264.5,222.3 264.6,223.3 264.7,227.2 264.7,222.3 264.8,216.4 264.9,220.1 265,220.3 265,218.3 265.1,215.9 265.2,216.5 265.2,216.6 265.3,217.6 265.4,215.2 265.5,215.9 265.5,212.7 265.6,210.1 265.7,210.2 265.8,212.3 265.8,212.4 265.9,212.6 266,209.3 266.1,208.8 266.1,208.3 266.2,209 266.3,211.5 266.4,212.9 266.4,208.2 266.5,211.7 266.6,207.7 266.7,214.8 266.7,213.7 266.8,214.1 266.9,212.8 267,212.9 267,215.6 267.1,214.5 267.2,218.4 267.3,217.9 267.3,219.8 267.4,219.5 267.5,220.3 267.6,219.5 267.6,215 267.7,223.6 267.8,222.3 267.9,221.5 267.9,223 268,221.4 268.1,225.9 268.1,223.5 268.2,226.5 268.3,224.3 268.4,225.8 268.4,226.1 268.5,227.8 268.6,230.3 268.7,229.4 268.7,226.7 268.8,228.6 268.9,227.3 269,230.9 269,228 269.1,227.7 269.2,233.1 269.3,229.2 269.3,226.8 269.4,231.4 269.5,228.7 269.6,230.5 269.6,229.3 269.7,231.5 269.8,232.3 269.9,231.9 269.9,231.9 270,232.4 270.1,233 270.2,229.9 270.2,232.8 270.3,233.9 270.4,233.6 270.5,231.4 270.5,235.9 270.6,231.5 270.7,231.3 270.7,230.4 270.8,233.3 270.9,234 271,232.5 271,232.6 271.1,230.8 271.2,232.9 271.3,233.7 271.3,235.2 271.4,233.5 271.5,233.1 271.6,231.3 271.6,233.1 271.7,231.1 271.8,231.4 271.9,234.7 271.9,235.3 272,234.5 272.1,233.9 272.2,234.9 272.2,232.5 272.3,232.5 272.4,231.7 272.5,233.2 272.5,234.4 272.6,233.1 272.7,235.2 272.8,233.5 272.8,235 272.9,231.9 273,238.2 273.1,232.5 273.1,232.4 273.2,234 273.3,233.4 273.3,233.6 273.4,231.8 273.5,231.3 273.6,233.9 273.6,231.3 273.7,235 273.8,233.3 273.9,233.3 273.9,236 274,233.4 274.1,235 274.2,232.7 274.2,235.4 274.3,236.8 274.4,236 274.5,233.9 274.5,233.4 274.6,233.3 274.7,235.1 274.8,232.5 274.8,234.7 274.9,234.1 275,232.1 275.1,233.9 275.1,236.7 275.2,232.4 275.3,233.5 275.4,234.1 275.4,231.3 275.5,234.4 275.6,232.2 275.7,233 275.7,228.9 275.8,235.9 275.9,232.6 275.9,232.2 276,230.9 276.1,233.2 276.2,233.4 276.2,230 276.3,232.8 276.4,231.5 276.5,231.8 276.5,230.9 276.6,233.5 276.7,232 276.8,230.9 276.8,230.4 276.9,228.6 277,229.2 277.1,228.8 277.1,229.5 277.2,227.1 277.3,229.7 277.4,228.6 277.4,230.5 277.5,229.5 277.6,226.1 277.7,227.3 277.7,229.9 277.8,226.8 277.9,226.9 278,228.2 278,225.8 278.1,226.7 278.2,226.3 278.3,225 278.3,227.6 278.4,225.1 278.5,227.5 278.5,227.8 278.6,225.6 278.7,227.4 278.8,229 278.8,228.9 278.9,228.7 279,231.7 279.1,228.7 279.1,230.1 279.2,232.5 279.3,232.2 279.4,229.7 279.4,233.3 279.5,228.2 279.6,233.5 279.7,231.8 279.7,236.3 279.8,232.7 279.9,233.6 280,232.2 280,232.8 280.1,233.8 280.2,230.1 280.3,232.4 280.3,234.9 280.4,233.3 280.5,238.5 280.6,235 280.6,232.3 280.7,235.2 280.8,234.2 280.9,236.3 280.9,233.4 281,234.5 281.1,234.8 281.1,233.4 281.2,232.4 281.3,233.8 281.4,237.8 281.4,234.5 281.5,234.8 281.6,237 281.7,237.8 281.7,236 281.8,235.9 281.9,235.6 282,236.6 282,235.3 282.1,235.1 282.2,236.1 282.3,235.1 282.3,236.6 282.4,238.2 282.5,235.8 282.6,234.5 282.6,231.7 282.7,239.2 282.8,236.7 282.9,237.3 282.9,235.6 283,237.4 283.1,235.8 283.2,234.5 283.2,237.2 283.3,236.2 283.4,233.7 283.5,234.8 283.5,238.7 283.6,233 283.7,237.3 283.8,235.8 283.8,236.9 283.9,237 284,237.4 284,235.4 284.1,237.5 284.2,238.3 284.3,237.3 284.3,236.4 284.4,239.5 284.5,235.2 284.6,237.6 284.6,235.4 284.7,234.4 284.8,236 284.9,235.7 284.9,237.2 285,237.6 285.1,239.5 285.2,236.9 285.2,237.5 285.3,240.2 285.4,236.2 285.5,234.4 285.5,236.1 285.6,234.9 285.7,237.1 285.8,238.3 285.8,236.6 285.9,237.3 286,238.5 286.1,235.2 286.1,236.5 286.2,237.8 286.3,236.5 286.4,237.1 286.4,235.9 286.5,234.5 286.6,237.8 286.6,238.7 286.7,234.8 286.8,233.3 286.9,237.8 286.9,238.3 287,238.8 287.1,237 287.2,236.8 287.2,237.4 287.3,235.7 287.4,238.2 287.5,237.9 287.5,238.9 287.6,235 287.7,235.4 287.8,235.1 287.8,238.3 287.9,235.1 288,236.7 288.1,236 288.1,236.2 288.2,237.6 288.3,237.4 288.4,239.4 288.4,238 288.5,237.5 288.6,238.9 288.7,237 288.7,235.3 288.8,237.9 288.9,238.6 289,238.5 289,237 289.1,234.7 289.2,237 289.2,237.2 289.3,239.1 289.4,236.8 289.5,236.4 289.5,237.9 289.6,237.4 289.7,238.3 289.8,236.3 289.8,235.4 289.9,236.8 290,236.6 290.1,237.3 290.1,238.3 290.2,238.5 290.3,238 290.4,237.3 290.4,237.4 290.5,236 290.6,236.4 290.7,235.3 290.7,236.3 290.8,237.8 290.9,237.3 291,239.9 291,235.1 291.1,238.4 291.2,238.1 291.3,234.9 291.3,239.1 291.4,238.5 291.5,237.7 291.6,238.4 291.6,237.4 291.7,237.2 291.8,236.7 291.8,237.8 291.9,236.6 292,238.1 292.1,236.8 292.1,235.9 292.2,240.1 292.3,238 292.4,237.4 292.4,240.4 292.5,242.1 292.6,237.2 292.7,238.6 292.7,236.5 292.8,237.7 292.9,237.7 293,238.2 293,237.5 293.1,239 293.2,238.4 293.3,236.6 293.3,238.1 293.4,237 293.5,237.7 293.6,238.2 293.6,239.1 293.7,236.5 293.8,238.9 293.9,237.2 293.9,240 294,237.3 294.1,237.2 294.2,238.7 294.2,240.1 294.3,238 294.4,237.6 294.4,238.5 294.5,238.7 294.6,236.5 294.7,237.9 294.7,238.4 294.8,236.6 294.9,237.8 295,238.8 295,236.5 295.1,238.3 295.2,236.5 295.3,238.8 295.3,237.3 295.4,236 295.5,237.1 295.6,237.1 295.6,237.2 295.7,236.6 295.8,237.7 295.9,237.2 295.9,238.1 296,235.1 296.1,239.1 296.2,236.6 296.2,239.2 296.3,237.1 296.4,236 296.5,239.4 296.5,235.3 296.6,239.2 296.7,239 296.8,237.4 296.8,239.4 296.9,236.5 297,237.2 297.1,241.7 297.1,239.9 297.2,238.9 297.3,237.3 297.3,239.4 297.4,238.9 297.5,237 297.6,239.3 297.6,237.5 297.7,239.8 297.8,236.5 297.9,235.9 297.9,239.5 298,241.3 298.1,240.3 298.2,236.6 298.2,238.7 298.3,236.4 298.4,239.8 298.5,239.3 298.5,238.1 298.6,236.4 298.7,238.3 298.8,239.4 298.8,237.5 298.9,237.8 299,237.3 299.1,238.2 299.1,238.9 299.2,237.9 299.3,241.5 299.4,237.6 299.4,236.3 299.5,237.2 299.6,239.3 299.7,240.2 299.7,236.1 299.8,238.7 299.9,238.3 299.9,237.7 300,238.8 300.1,238 300.2,235.9 300.2,238.7 300.3,235.3 300.4,237.5 300.5,237.6 300.5,236.7 300.6,236.7 300.7,236.6 300.8,237.3 300.8,238.9 300.9,235.7 301,238.3 301.1,239.2 301.1,236.8 301.2,237.1 301.3,238.1 301.4,238 301.4,237.2 301.5,235.4 301.6,238.2 301.7,239.8 301.7,238.9 301.8,237.4 301.9,238.4 302,239 302,237.1 302.1,237.1 302.2,238.4 302.3,237.7 302.3,239 302.4,239 302.5,238.6 302.5,240 302.6,237.6 302.7,238.2 302.8,238.8 302.8,238 302.9,237.9 303,239.2 303.1,239 303.1,239.3 303.2,236.3 303.3,240.5 303.4,238.3 303.4,237 303.5,239.7 303.6,239.5 303.7,239.6 303.7,240.7 303.8,236.6 303.9,238.6 304,239.8"/>
<line x1="66.2" y1="34.9" x2="66.2" y2="246.2" stroke="#000" stroke-width="1.3"/>
<line x1="65.5" y1="245.5" x2="304.2" y2="245.5" stroke="#000" stroke-width="1.3"/>
<line x1="61.8" y1="245.5" x2="66.2" y2="245.5" stroke="#000" stroke-width="1.2"/>
<text x="60.2" y="249.2" font-family="'Liberation Serif', serif" font-size="10.8" fill="#000" text-anchor="end" font-weight="bold">0</text>
<line x1="63.8" y1="226.3" x2="66.2" y2="226.3" stroke="#000" stroke-width="1.1"/>
<line x1="61.8" y1="207.2" x2="66.2" y2="207.2" stroke="#000" stroke-width="1.2"/>
<text x="60.2" y="210.9" font-family="'Liberation Serif', serif" font-size="10.8" fill="#000" text-anchor="end" font-weight="bold">200</text>
<line x1="63.8" y1="188.1" x2="66.2" y2="188.1" stroke="#000" stroke-width="1.1"/>
<line x1="61.8" y1="168.9" x2="66.2" y2="168.9" stroke="#000" stroke-width="1.2"/>
<text x="60.2" y="172.6" font-family="'Liberation Serif', serif" font-size="10.8" fill="#000" text-anchor="end" font-weight="bold">400</text>
<line x1="63.8" y1="149.8" x2="66.2" y2="149.8" stroke="#000" stroke-width="1.1"/>
<line x1="61.8" y1="130.6" x2="66.2" y2="130.6" stroke="#000" stroke-width="1.2"/>
<text x="60.2" y="134.3" font-family="'Liberation Serif', serif" font-size="10.8" fill="#000" text-anchor="end" font-weight="bold">600</text>
<line x1="63.8" y1="111.4" x2="66.2" y2="111.4" stroke="#000" stroke-width="1.1"/>
<line x1="61.8" y1="92.3" x2="66.2" y2="92.3" stroke="#000" stroke-width="1.2"/>
<text x="60.2" y="96" font-family="'Liberation Serif', serif" font-size="10.8" fill="#000" text-anchor="end" font-weight="bold">800</text>
<line x1="63.8" y1="73.2" x2="66.2" y2="73.2" stroke="#000" stroke-width="1.1"/>
<line x1="61.8" y1="54" x2="66.2" y2="54" stroke="#000" stroke-width="1.2"/>
<text x="60.2" y="57.7" font-family="'Liberation Serif', serif" font-size="10.8" fill="#000" text-anchor="end" font-weight="bold">1000</text>
<line x1="63.8" y1="34.8" x2="66.2" y2="34.8" stroke="#000" stroke-width="1.1"/>
<line x1="66.2" y1="245.5" x2="66.2" y2="250.4" stroke="#000" stroke-width="1.2"/>
<text x="66.2" y="262.8" font-family="'Liberation Serif', serif" font-size="11.8" fill="#000" textLength="10.8" lengthAdjust="spacingAndGlyphs" text-anchor="middle" font-weight="bold">10</text>
<line x1="81.1" y1="245.5" x2="81.1" y2="248.6" stroke="#000" stroke-width="1.1"/>
<line x1="95.9" y1="245.5" x2="95.9" y2="250.4" stroke="#000" stroke-width="1.2"/>
<text x="95.9" y="262.8" font-family="'Liberation Serif', serif" font-size="11.8" fill="#000" textLength="10.8" lengthAdjust="spacingAndGlyphs" text-anchor="middle" font-weight="bold">20</text>
<line x1="110.8" y1="245.5" x2="110.8" y2="248.6" stroke="#000" stroke-width="1.1"/>
<line x1="125.6" y1="245.5" x2="125.6" y2="250.4" stroke="#000" stroke-width="1.2"/>
<text x="125.6" y="262.8" font-family="'Liberation Serif', serif" font-size="11.8" fill="#000" textLength="10.8" lengthAdjust="spacingAndGlyphs" text-anchor="middle" font-weight="bold">30</text>
<line x1="140.5" y1="245.5" x2="140.5" y2="248.6" stroke="#000" stroke-width="1.1"/>
<line x1="155.4" y1="245.5" x2="155.4" y2="250.4" stroke="#000" stroke-width="1.2"/>
<text x="155.4" y="262.8" font-family="'Liberation Serif', serif" font-size="11.8" fill="#000" textLength="10.8" lengthAdjust="spacingAndGlyphs" text-anchor="middle" font-weight="bold">40</text>
<line x1="170.2" y1="245.5" x2="170.2" y2="248.6" stroke="#000" stroke-width="1.1"/>
<line x1="185.1" y1="245.5" x2="185.1" y2="250.4" stroke="#000" stroke-width="1.2"/>
<text x="185.1" y="262.8" font-family="'Liberation Serif', serif" font-size="11.8" fill="#000" textLength="10.8" lengthAdjust="spacingAndGlyphs" text-anchor="middle" font-weight="bold">50</text>
<line x1="199.9" y1="245.5" x2="199.9" y2="248.6" stroke="#000" stroke-width="1.1"/>
<line x1="214.8" y1="245.5" x2="214.8" y2="250.4" stroke="#000" stroke-width="1.2"/>
<text x="214.8" y="262.8" font-family="'Liberation Serif', serif" font-size="11.8" fill="#000" textLength="10.8" lengthAdjust="spacingAndGlyphs" text-anchor="middle" font-weight="bold">60</text>
<line x1="229.7" y1="245.5" x2="229.7" y2="248.6" stroke="#000" stroke-width="1.1"/>
<line x1="244.5" y1="245.5" x2="244.5" y2="250.4" stroke="#000" stroke-width="1.2"/>
<text x="244.5" y="262.8" font-family="'Liberation Serif', serif" font-size="11.8" fill="#000" textLength="10.8" lengthAdjust="spacingAndGlyphs" text-anchor="middle" font-weight="bold">70</text>
<line x1="259.4" y1="245.5" x2="259.4" y2="248.6" stroke="#000" stroke-width="1.1"/>
<line x1="274.2" y1="245.5" x2="274.2" y2="250.4" stroke="#000" stroke-width="1.2"/>
<text x="274.2" y="262.8" font-family="'Liberation Serif', serif" font-size="11.8" fill="#000" textLength="10.8" lengthAdjust="spacingAndGlyphs" text-anchor="middle" font-weight="bold">80</text>
<line x1="289.1" y1="245.5" x2="289.1" y2="248.6" stroke="#000" stroke-width="1.1"/>
<line x1="304" y1="245.5" x2="304" y2="250.4" stroke="#000" stroke-width="1.2"/>
<text x="304" y="262.8" font-family="'Liberation Serif', serif" font-size="11.8" fill="#000" textLength="10.8" lengthAdjust="spacingAndGlyphs" text-anchor="middle" font-weight="bold">90</text>
<text transform="translate(31.6 204.2) rotate(-90)" font-family="'Liberation Serif', serif" font-size="16.2" fill="#000" textLength="115.4" lengthAdjust="spacingAndGlyphs" font-weight="bold">Intensity A.U.</text>
<text x="163.3" y="275.3" font-family="'Liberation Serif', serif" font-size="18.6" fill="#000" textLength="15.6" lengthAdjust="spacingAndGlyphs" font-weight="bold">2θ</text>
<text x="76" y="62.2" font-family="'Liberation Serif', serif" font-size="35" fill="#000" textLength="14" lengthAdjust="spacingAndGlyphs" font-weight="bold">a</text>
<text x="137.7" y="50.4" font-family="'Liberation Serif', serif" font-size="13.2" fill="#000" textLength="24.5" lengthAdjust="spacingAndGlyphs" font-weight="bold">(111)</text>
<text x="162.2" y="160.7" font-family="'Liberation Serif', serif" font-size="13.2" fill="#000" textLength="25" lengthAdjust="spacingAndGlyphs" font-weight="bold">(200)</text>
<text x="216" y="194" font-family="'Liberation Serif', serif" font-size="13.2" fill="#000" textLength="25" lengthAdjust="spacingAndGlyphs" font-weight="bold">(220)</text>
<text x="253.5" y="200.8" font-family="'Liberation Serif', serif" font-size="13.2" fill="#000" textLength="25" lengthAdjust="spacingAndGlyphs" font-weight="bold">(311)</text>
<text x="273" y="220.2" font-family="'Liberation Serif', serif" font-size="13.2" fill="#000" textLength="25.5" lengthAdjust="spacingAndGlyphs" font-weight="bold">(222)</text>
<line x1="186.6" y1="61.5" x2="211" y2="61.5" stroke="#000" stroke-width="1.6"/>
<text x="214.2" y="66" font-family="'Liberation Serif', serif" font-size="13.6" fill="#000" textLength="86.1" lengthAdjust="spacingAndGlyphs" font-weight="bold">XRD of B-AgNPs</text>
</g>
<g id="panel-b">
<rect x="361.2" y="1" width="322.7" height="286.6" fill="#fff" stroke="#222" stroke-width="1.4"/>
<rect x="362" y="5.6" width="320.6" height="235" fill="#07366a"/>
<polygon fill="#f6ee00" points="365.3,240.6 365.3,238.3 365.8,238.1 366.2,236.8 366.6,235.8 367.1,236.3 367.5,236.8 368,236.9 368.4,236.9 368.5,237 368.9,235.5 369.3,234 369.3,231.2 369.8,205.7 369.9,200 370.2,151 370.4,130 370.7,107.2 370.9,92 371,88 371.1,88 371.6,88 371.8,88 371.9,92 372,103.4 372.4,130 372.5,144 372.9,200 372.9,202.8 373.4,228.3 373.5,234 373.8,235.3 374.3,237 374.3,237 374.7,236.7 375.2,237.4 375.6,236.3 376,237 376.1,236.3 376.4,234 376.5,192.4 376.8,137 377,102.6 377.1,82 377.4,64.4 377.9,41 377.9,40.4 378.3,35.1 378.4,34.5 378.8,34.5 379.2,34.5 379.6,34.5 379.7,35.7 380.1,41 380.1,41 380.6,67.4 380.9,82 381,109.5 381.2,137 381.5,206.3 381.6,234 381.9,235.5 382.4,237.5 382.4,237.5 382.8,236.8 383.3,235.9 383.7,237 384.2,236.7 384.6,235.8 385.1,235.3 385.5,235.4 386,235.3 386.4,234.6 386.9,233.8 387.3,234.5 387.8,235.1 388.2,235.2 388.7,234.6 389.1,234.8 389.6,234.2 390,232.8 390.5,231 390.9,229.5 391.4,230.2 391.5,230 391.8,227.8 392.3,225 392.3,225 392.7,196 393.2,167 393.2,167 393.6,147.8 394.1,128.5 394.3,120 394.5,112.8 394.8,105.5 395,105.5 395.4,105.5 395.8,105.5 395.9,108.4 396.3,120 396.3,122.1 396.8,141.4 397.2,160.6 397.4,167 397.7,186.3 398.1,215.3 398.3,225 398.6,226.4 399,228.4 399.5,230.5 399.5,230.5 399.9,230.7 400.4,230.3 400.8,230.9 401.3,229.8 401.7,230 402.2,230.5 402.6,229.7 403.1,230.3 403.5,231.1 404,230 404.4,228 404.9,226.3 405.3,227.5 405.8,228.3 406.2,227.8 406.7,228.4 407.1,228.4 407.6,228.5 408,228.9 408.5,229.3 408.9,229 409.4,229.2 409.8,230.5 410.3,230.3 410.7,228.4 411.2,229.1 411.6,230.4 412.1,230.5 412.5,229.6 413,228.6 413.4,228.9 413.9,230 414.3,229.5 414.8,229.3 415.2,229.4 415.7,228.9 416.1,228.8 416.6,228.8 417,229.3 417.5,229.9 417.9,229.7 418.4,229.2 418.8,229.5 419.3,229.1 419.7,229.6 420.2,229.2 420.6,228.9 421.1,230 421.5,230.6 422,230.5 422.4,230.7 422.9,229.6 423.3,229.7 423.8,231 424.2,232.7 424.7,232 425.1,231.1 425.6,231.1 426,230.4 426.5,230.5 426.9,231.3 427.4,229.9 427.8,229 428.3,228.8 428.7,229.7 429.2,230.3 429.6,230.8 430.1,230.5 430.5,230.7 431,230.5 431.4,230.4 431.9,230.1 432.3,230.3 432.8,230.2 433.2,230.6 433.7,229.7 434.1,230.3 434.6,230.8 435,230.4 435.5,230.1 435.9,230.4 436.4,231 436.8,230.8 437.3,230.1 437.7,230.5 438.2,229.4 438.6,230 439.1,231.7 439.5,230.7 440,229.9 440.4,230.6 440.9,230.7 441.3,231.2 441.8,231.2 442.2,230.8 442.7,230.3 443.1,230.4 443.6,229.4 443.8,229 444,227.3 444.5,224.1 444.8,222 444.9,221.1 445.4,218.2 445.4,218.2 445.8,221 446,222 446.3,223.9 446.7,226.7 447.2,229.5 447.2,229.5 447.6,229 448.1,228.6 448.5,228.9 449,230.1 449.4,230.7 449.9,230.7 450.3,230.2 450.8,228.8 451.2,227.9 451.7,227.2 452,226 452.1,223 452.6,214 453,205 453.3,200 453.5,186.1 453.9,154.9 454.1,148 454.4,132.9 454.8,113.4 455.3,94 455.3,94 455.7,75 456,64.4 456.2,64.4 456.6,64.4 457,64.4 457.1,68.6 457.5,87.7 457.7,94 458,107 458.4,126.4 458.9,145.8 458.9,148 459.3,169.5 459.6,183 459.8,179.9 460.2,172.8 460.3,172 460.7,168.4 461.1,164.3 461.2,163.8 461.6,163.8 462,163.8 462.2,163.8 462.5,168.7 462.9,175.9 463.2,180 463.4,184 463.8,193 464.2,200 464.3,201.5 464.7,208.2 465.2,215 465.2,215 465.6,214.4 466.1,213.8 466.3,213.5 466.5,213.5 467,213.4 467.4,213.3 467.4,213.7 467.9,217 468.3,220 468.3,220.4 468.8,224 469.2,227.6 469.3,228 469.7,229.3 470.1,230.8 470.5,232 470.6,232 471,232.1 471.5,232.2 471.9,232.4 472.4,232.5 472.5,232.5 472.8,231.4 473.3,232.9 473.7,235.1 474.2,235 474.6,234.6 475.1,235.1 475.5,235.2 476,235.6 476.4,236.2 476.9,235.9 477.3,235.5 477.8,235 478.2,233.1 478.7,233.4 479.1,233.5 479.3,233.5 479.6,232.5 480,231.1 480.3,230.3 480.5,231 480.9,232.6 481.3,233.8 481.4,233.8 481.8,234.6 482.3,234.3 482.7,234.4 483.2,234.4 483.6,234.6 484.1,235.1 484.5,235.1 485,234.7 485.4,235.1 485.9,235.3 486.3,235 486.8,235.4 487.2,235.7 487.7,236 488.1,236.1 488.6,235.5 489,235.7 489.5,235.4 489.9,234.4 490.4,234.7 490.8,234.9 491.3,235.2 491.7,235.6 492.2,235.4 492.6,235.7 493.1,236.7 493.5,236.9 494,236.2 494.4,235.8 494.9,236.7 495.3,237.2 495.8,236.9 496.2,236.1 496.7,235.3 497.1,235.1 497.6,234.7 498,234.7 498.5,235.4 498.9,235.6 499.4,236.6 499.8,236.5 500.3,235.5 500.7,235.4 501.2,236 501.6,236.8 502.1,236.3 502.5,235.8 503,236.4 503.4,236.5 503.9,236.7 504.3,237.1 504.8,236.9 505.2,236.6 505.7,236.2 506.1,236.3 506.6,235.7 507,235.5 507.5,235.7 507.9,235.8 508.4,235.8 508.8,236.5 509.3,237.4 509.7,237.6 510.2,237.7 510.6,237.6 511.1,236.3 511.5,235.6 512,236.8 512.4,237.8 512.9,237.8 513.3,237.8 513.8,237.2 514.2,236.5 514.7,236.8 515.1,237.5 515.6,236.3 516,235.3 516.5,235.5 516.9,236 517.4,236 517.8,236.1 518.3,235.6 518.7,235.6 519.2,236.4 519.6,237.6 520.1,236.9 520.5,236.1 521,235.5 521.4,235.3 521.9,235.8 522.3,236.4 522.8,236.1 523.2,236.6 523.7,236.7 524.1,236.7 524.6,236.3 525,235.8 525.5,235.1 525.9,235 526.4,235.5 526.8,236.3 527.3,236.6 527.7,237.1 528.2,236.5 528.6,236.3 529.1,236.5 529.5,236.9 530,237 530.4,237.2 530.9,237.2 531.3,237.4 531.8,237.3 532.2,237.6 532.7,237.3 533.1,236.7 533.6,236.4 534,236.8 534.5,236.9 534.9,237.2 535.4,236.1 535.8,235.6 536.3,236 536.7,236.1 537.2,235.8 537.6,236.1 538.1,235.6 538.5,235.7 539,236.3 539.4,236.3 539.9,236.2 540.3,236.2 540.8,236.6 541.2,236.3 541.7,235.5 542.1,236.2 542.6,237.3 543,238.1 543.5,238.6 543.9,238 544.4,237.1 544.8,236.9 545.3,237 545.7,237.7 546.2,237.9 546.6,237.3 547.1,237.3 547.5,238.1 548,238.3 548.4,237.9 548.9,237.1 549.3,237.1 549.8,237.4 550.2,237.4 550.7,237.9 551.1,238.3 551.6,238.4 552,238.3 552.5,237.7 552.9,237.6 553.4,237.6 553.8,237.6 554.3,237.7 554.7,237.2 555.2,236.4 555.6,236.5 556.1,236.4 556.5,236 557,236.3 557.4,237.4 557.9,237.6 558.3,237.5 558.8,237.5 559.2,237.5 559.7,236.7 560.1,237 560.6,237.3 561,237.2 561.5,236.8 561.9,237.1 562.4,237.7 562.8,238.2 563.3,238.1 563.7,237.9 564.2,238 564.6,237.9 565.1,237.4 565.5,237.6 566,237.7 566.4,237.5 566.9,237.7 567.3,237.8 567.8,237.8 568.2,237.7 568.7,237.7 569.1,237.7 569.6,237.8 570,238.2 570.5,238.2 570.9,237.7 571.4,237.5 571.8,237.4 572.3,238 572.7,238.4 573.2,238.1 573.6,237.7 574.1,237.5 574.5,237.8 575,238.5 575.4,238.2 575.9,237.8 576.3,237.6 576.8,237.5 577.2,237.4 577.7,237.3 578.1,237.5 578.6,237.8 579,238.1 579.5,238.1 579.9,237.8 580.4,237.4 580.8,237.6 581.3,237.9 581.7,238.1 582.2,238.1 582.6,238 583.1,237.5 583.5,237.3 584,237.8 584.4,237.9 584.9,237.4 585.3,237.5 585.8,237.8 586.2,237.9 586.7,238.2 587.1,237.9 587.6,237.9 588,238.4 588.5,238.3 588.9,238.2 589.4,238.1 589.8,238.1 590.3,238.4 590.7,238.3 591.2,238.1 591.6,238.1 592.1,238.3 592.5,238.3 593,238.2 593.4,238.2 593.9,238 594.3,237.8 594.8,237.8 595.2,237.7 595.7,238 596.1,238.4 596.6,238.5 597,238.7 597.5,238.5 597.9,237.8 598.4,237.6 598.8,237.8 599.3,238.2 599.7,238.2 600.2,238.1 600.6,238.2 601.1,237.7 601.5,237.7 602,238.5 602.4,238.9 602.9,238.6 603.3,238 603.8,238.3 604.2,238.7 604.7,238.6 605.1,238.3 605.6,238 606,238.2 606.5,238.8 606.9,239.3 607.4,239.4 607.8,238.7 608.3,238.4 608.7,238.3 609.2,238.3 609.6,238.7 610.1,238.7 610.5,238.8 611,238.8 611.4,238.4 611.9,237.9 612.3,237.8 612.8,238.1 613.2,238 613.7,238.1 614.1,238.8 614.6,239 615,238.8 615.5,238.2 615.9,238 616.4,238.4 616.8,238.5 617.3,238.2 617.7,238.3 618.2,238.5 618.6,238.4 619.1,238.1 619.5,238.4 620,238.3 620.4,238.6 620.9,238.6 621.3,237.9 621.8,237.7 622.2,238.2 622.7,238.6 623.1,239 623.6,238.5 624,237.8 624.5,237.8 624.9,238.2 625.4,238.3 625.8,238.1 626.3,238.5 626.7,238.6 627.2,238.5 627.6,238.5 628.1,238.6 628.5,238.4 629,238.6 629.4,238.9 629.9,239.6 630.3,239.6 630.8,239.2 631.2,238.9 631.7,238.6 632.1,238.6 632.6,238.6 633,238.6 633.5,239.2 633.9,239.7 634.4,239.3 634.8,239.1 635.3,239.5 635.7,239.6 636.2,239.3 636.6,239.1 637.1,238.7 637.5,239.1 638,239.3 638.4,239.2 638.9,238.9 639.3,238.7 639.8,238.8 640.2,238.8 640.7,238.7 641.1,238.7 641.6,239.1 642,239.4 642.5,239.3 642.9,239.4 643.4,239.6 643.8,239.6 644.3,239.2 644.7,238.9 645.2,239 645.6,239.2 646.1,239.3 646.5,239.2 647,238.9 647.4,238.8 647.9,238.8 648.3,239 648.8,238.9 649.2,238.8 649.7,238.8 650.1,238.8 650.6,239.4 651,239.9 651.5,239.9 651.9,239.5 652.4,239.2 652.8,239.4 653.3,239.9 653.7,239.7 654.2,239.1 654.6,238.7 655.1,239 655.5,238.6 656,238.5 656.4,239.1 656.9,239.3 657.3,238.9 657.8,239.4 658.2,239.9 658.7,239.8 659.1,239.7 659.6,240.1 660,239.8 660.5,239.4 660.9,239.4 661.4,239.3 661.8,239.3 662.3,239.2 662.7,239.3 663.2,239.2 663.6,239.4 664.1,239.5 664.5,239.1 665,239.1 665.4,238.9 665.9,238.5 666.3,238.7 666.8,238.9 667.2,239.2 667.7,239.7 668.1,240 668.6,239.7 669,239.2 669.5,239.4 669.9,239.3 670.4,239 670.8,239.3 671.3,239 671.7,238.4 672.2,238.8 672.6,239.2 673.1,239.5 673.5,239.5 674,239.6 674.4,239.5 674.9,239.2 675.3,239 675.8,239.5 676.2,239.8 676.7,239.2 677.1,238.6 677.6,239 678,239.6 678.5,239.3 678.9,239 679.4,239.2 679.8,239.5 680.3,239.4 680.7,239.1 681.2,239.1 681.6,239.6 682.1,239.9 682.5,239.8 682.5,240.6"/>
<rect x="362.2" y="5.6" width="3.1" height="235" fill="#e6de00"/>
<rect x="362" y="5.6" width="1" height="235" fill="#8a8200"/>
<line x1="378.8" y1="28.3" x2="378.8" y2="35" stroke="#a9b3c8" stroke-width="1.4"/>
<polygon points="385.2,20.3 385.1,21.1 384.7,21.9 384.3,22.6 384.1,23.2 384,24 384.1,24.9 384.1,25.9 383.9,26.7 383.5,27.3 382.9,27.5 382.4,27.7 381.9,28 381.6,28.6 381.3,29.4 381,30.2 380.5,30.7 380,30.7 379.4,30.4 378.9,30 378.4,29.8 377.9,30 377.4,30.4 376.8,30.7 376.3,30.7 375.8,30.2 375.5,29.4 375.2,28.6 374.9,28 374.4,27.7 373.9,27.5 373.3,27.3 372.9,26.7 372.7,25.9 372.7,24.9 372.8,24 372.7,23.2 372.5,22.6 372.1,21.9 371.7,21.1 371.6,20.3 371.7,19.5 372.1,18.7 372.5,18 372.7,17.4 372.8,16.6 372.7,15.7 372.7,14.7 372.9,13.9 373.3,13.3 373.9,13.1 374.4,12.9 374.9,12.6 375.2,12 375.5,11.2 375.8,10.4 376.3,9.9 376.8,9.9 377.4,10.2 377.9,10.6 378.4,10.8 378.9,10.6 379.4,10.2 380,9.9 380.5,9.9 381,10.4 381.3,11.2 381.6,12 381.9,12.6 382.4,12.9 382.9,13.1 383.5,13.3 383.9,13.9 384.1,14.7 384.1,15.7 384,16.6 384.1,17.4 384.3,18 384.7,18.7 385.1,19.5" fill="#a3aec3" stroke="#8f9cb5" stroke-width="0.8"/>
<text transform="translate(378.4 25.3) scale(1 1.8)" font-family="'Liberation Sans', sans-serif" font-size="7.6" fill="#fff" text-anchor="middle">O</text>
<line x1="371.2" y1="82.5" x2="371.2" y2="88.5" stroke="#a9b3c8" stroke-width="1.4"/>
<polygon points="377.8,74.5 377.7,75.3 377.3,76.1 376.9,76.8 376.7,77.4 376.7,78.2 376.7,79.1 376.8,80.1 376.6,80.9 376.2,81.5 375.6,81.7 375.1,81.9 374.6,82.2 374.3,82.8 374.1,83.6 373.7,84.4 373.3,84.9 372.8,84.9 372.3,84.6 371.8,84.2 371.3,84 370.8,84.2 370.3,84.6 369.8,84.9 369.3,84.9 368.9,84.4 368.5,83.6 368.3,82.8 368,82.2 367.5,81.9 367,81.7 366.4,81.5 366,80.9 365.8,80.1 365.9,79.1 365.9,78.2 365.9,77.4 365.7,76.8 365.3,76.1 364.9,75.3 364.8,74.5 364.9,73.7 365.3,72.9 365.7,72.2 365.9,71.6 365.9,70.8 365.9,69.9 365.8,68.9 366,68.1 366.4,67.5 367,67.3 367.5,67.1 368,66.8 368.3,66.2 368.5,65.4 368.9,64.6 369.3,64.1 369.8,64.1 370.3,64.4 370.8,64.8 371.3,65 371.8,64.8 372.3,64.4 372.8,64.1 373.3,64.1 373.7,64.6 374.1,65.4 374.3,66.2 374.6,66.8 375.1,67.1 375.6,67.3 376.2,67.5 376.6,68.1 376.8,68.9 376.7,69.9 376.7,70.8 376.7,71.6 376.9,72.2 377.3,72.9 377.7,73.7" fill="#a3aec3" stroke="#8f9cb5" stroke-width="0.8"/>
<text transform="translate(371.3 79.5) scale(1 1.8)" font-family="'Liberation Sans', sans-serif" font-size="7.6" fill="#fff" text-anchor="middle">C</text>
<line x1="395.1" y1="98.5" x2="395.1" y2="106" stroke="#a9b3c8" stroke-width="1.4"/>
<polygon points="402.2,90.5 402,91.3 401.6,92.1 401.2,92.8 400.9,93.4 400.8,94.2 400.9,95.1 400.9,96.1 400.7,96.9 400.2,97.5 399.6,97.7 398.9,97.9 398.4,98.2 398.1,98.8 397.8,99.6 397.4,100.4 396.9,100.9 396.3,100.9 395.6,100.6 395,100.2 394.5,100 394,100.2 393.4,100.6 392.7,100.9 392.1,100.9 391.6,100.4 391.2,99.6 390.9,98.8 390.6,98.2 390.1,97.9 389.4,97.7 388.8,97.5 388.3,96.9 388.1,96.1 388.1,95.1 388.2,94.2 388.1,93.4 387.8,92.8 387.4,92.1 387,91.3 386.8,90.5 387,89.7 387.4,88.9 387.8,88.2 388.1,87.6 388.2,86.8 388.1,85.9 388.1,84.9 388.3,84.1 388.8,83.5 389.4,83.3 390.1,83.1 390.6,82.8 390.9,82.2 391.2,81.4 391.6,80.6 392.1,80.1 392.7,80.1 393.4,80.4 394,80.8 394.5,81 395,80.8 395.6,80.4 396.3,80.1 396.9,80.1 397.4,80.6 397.8,81.4 398.1,82.2 398.4,82.8 398.9,83.1 399.6,83.3 400.2,83.5 400.7,84.1 400.9,84.9 400.9,85.9 400.8,86.8 400.9,87.6 401.2,88.2 401.6,88.9 402,89.7" fill="#a3aec3" stroke="#8f9cb5" stroke-width="0.8"/>
<text transform="translate(394.5 95.5) scale(1 1.8)" font-family="'Liberation Sans', sans-serif" font-size="7.6" fill="#fff" text-anchor="middle">Na</text>
<line x1="456.3" y1="59.8" x2="456.3" y2="64.9" stroke="#a9b3c8" stroke-width="1.4"/>
<polygon points="463.3,51.8 463.1,52.6 462.7,53.4 462.3,54.1 462,54.7 461.9,55.5 462,56.4 462,57.4 461.8,58.2 461.3,58.8 460.7,59 460,59.2 459.5,59.5 459.2,60.1 458.9,60.9 458.5,61.7 458,62.2 457.4,62.2 456.7,61.9 456.1,61.5 455.6,61.3 455.1,61.5 454.5,61.9 453.8,62.2 453.2,62.2 452.7,61.7 452.3,60.9 452,60.1 451.7,59.5 451.2,59.2 450.5,59 449.9,58.8 449.4,58.2 449.2,57.4 449.2,56.4 449.3,55.5 449.2,54.7 448.9,54.1 448.5,53.4 448.1,52.6 447.9,51.8 448.1,51 448.5,50.2 448.9,49.5 449.2,48.9 449.3,48.1 449.2,47.2 449.2,46.2 449.4,45.4 449.9,44.8 450.5,44.6 451.2,44.4 451.7,44.1 452,43.5 452.3,42.7 452.7,41.9 453.2,41.4 453.8,41.4 454.5,41.7 455.1,42.1 455.6,42.3 456.1,42.1 456.7,41.7 457.4,41.4 458,41.4 458.5,41.9 458.9,42.7 459.2,43.5 459.5,44.1 460,44.4 460.7,44.6 461.3,44.8 461.8,45.4 462,46.2 462,47.2 461.9,48.1 462,48.9 462.3,49.5 462.7,50.2 463.1,51" fill="#a3aec3" stroke="#8f9cb5" stroke-width="0.8"/>
<text transform="translate(455.6 56.8) scale(1 1.8)" font-family="'Liberation Sans', sans-serif" font-size="7.6" fill="#fff" text-anchor="middle">Ag</text>
<text x="407.2" y="46.4" font-family="'Liberation Serif', serif" font-size="36" fill="#fff" textLength="16.5" lengthAdjust="spacingAndGlyphs" font-weight="bold">b</text>
<line x1="361.9" y1="241.4" x2="683.2" y2="241.4" stroke="#222" stroke-width="1.4"/>
<line x1="362.2" y1="241.4" x2="362.2" y2="248.2" stroke="#222" stroke-width="1.1"/>
<line x1="368.5" y1="241.4" x2="368.5" y2="244.8" stroke="#333" stroke-width="1"/>
<line x1="374.7" y1="241.4" x2="374.7" y2="244.8" stroke="#333" stroke-width="1"/>
<line x1="381" y1="241.4" x2="381" y2="244.8" stroke="#333" stroke-width="1"/>
<line x1="387.3" y1="241.4" x2="387.3" y2="244.8" stroke="#333" stroke-width="1"/>
<line x1="393.6" y1="241.4" x2="393.6" y2="248.2" stroke="#222" stroke-width="1.1"/>
<line x1="399.8" y1="241.4" x2="399.8" y2="244.8" stroke="#333" stroke-width="1"/>
<line x1="406.1" y1="241.4" x2="406.1" y2="244.8" stroke="#333" stroke-width="1"/>
<line x1="412.4" y1="241.4" x2="412.4" y2="244.8" stroke="#333" stroke-width="1"/>
<line x1="418.6" y1="241.4" x2="418.6" y2="244.8" stroke="#333" stroke-width="1"/>
<line x1="424.9" y1="241.4" x2="424.9" y2="248.2" stroke="#222" stroke-width="1.1"/>
<line x1="431.2" y1="241.4" x2="431.2" y2="244.8" stroke="#333" stroke-width="1"/>
<line x1="437.4" y1="241.4" x2="437.4" y2="244.8" stroke="#333" stroke-width="1"/>
<line x1="443.7" y1="241.4" x2="443.7" y2="244.8" stroke="#333" stroke-width="1"/>
<line x1="450" y1="241.4" x2="450" y2="244.8" stroke="#333" stroke-width="1"/>
<line x1="456.2" y1="241.4" x2="456.2" y2="248.2" stroke="#222" stroke-width="1.1"/>
<line x1="462.5" y1="241.4" x2="462.5" y2="244.8" stroke="#333" stroke-width="1"/>
<line x1="468.8" y1="241.4" x2="468.8" y2="244.8" stroke="#333" stroke-width="1"/>
<line x1="475.1" y1="241.4" x2="475.1" y2="244.8" stroke="#333" stroke-width="1"/>
<line x1="481.3" y1="241.4" x2="481.3" y2="244.8" stroke="#333" stroke-width="1"/>
<line x1="487.6" y1="241.4" x2="487.6" y2="248.2" stroke="#222" stroke-width="1.1"/>
<line x1="493.9" y1="241.4" x2="493.9" y2="244.8" stroke="#333" stroke-width="1"/>
<line x1="500.1" y1="241.4" x2="500.1" y2="244.8" stroke="#333" stroke-width="1"/>
<line x1="506.4" y1="241.4" x2="506.4" y2="244.8" stroke="#333" stroke-width="1"/>
<line x1="512.7" y1="241.4" x2="512.7" y2="244.8" stroke="#333" stroke-width="1"/>
<line x1="519" y1="241.4" x2="519" y2="248.2" stroke="#222" stroke-width="1.1"/>
<line x1="525.2" y1="241.4" x2="525.2" y2="244.8" stroke="#333" stroke-width="1"/>
<line x1="531.5" y1="241.4" x2="531.5" y2="244.8" stroke="#333" stroke-width="1"/>
<line x1="537.8" y1="241.4" x2="537.8" y2="244.8" stroke="#333" stroke-width="1"/>
<line x1="544" y1="241.4" x2="544" y2="244.8" stroke="#333" stroke-width="1"/>
<line x1="550.3" y1="241.4" x2="550.3" y2="248.2" stroke="#222" stroke-width="1.1"/>
<line x1="556.6" y1="241.4" x2="556.6" y2="244.8" stroke="#333" stroke-width="1"/>
<line x1="562.8" y1="241.4" x2="562.8" y2="244.8" stroke="#333" stroke-width="1"/>
<line x1="569.1" y1="241.4" x2="569.1" y2="244.8" stroke="#333" stroke-width="1"/>
<line x1="575.4" y1="241.4" x2="575.4" y2="244.8" stroke="#333" stroke-width="1"/>
<line x1="581.6" y1="241.4" x2="581.6" y2="248.2" stroke="#222" stroke-width="1.1"/>
<line x1="587.9" y1="241.4" x2="587.9" y2="244.8" stroke="#333" stroke-width="1"/>
<line x1="594.2" y1="241.4" x2="594.2" y2="244.8" stroke="#333" stroke-width="1"/>
<line x1="600.5" y1="241.4" x2="600.5" y2="244.8" stroke="#333" stroke-width="1"/>
<line x1="606.7" y1="241.4" x2="606.7" y2="244.8" stroke="#333" stroke-width="1"/>
<line x1="613" y1="241.4" x2="613" y2="248.2" stroke="#222" stroke-width="1.1"/>
<line x1="619.3" y1="241.4" x2="619.3" y2="244.8" stroke="#333" stroke-width="1"/>
<line x1="625.5" y1="241.4" x2="625.5" y2="244.8" stroke="#333" stroke-width="1"/>
<line x1="631.8" y1="241.4" x2="631.8" y2="244.8" stroke="#333" stroke-width="1"/>
<line x1="638.1" y1="241.4" x2="638.1" y2="244.8" stroke="#333" stroke-width="1"/>
<line x1="644.3" y1="241.4" x2="644.3" y2="248.2" stroke="#222" stroke-width="1.1"/>
<line x1="650.6" y1="241.4" x2="650.6" y2="244.8" stroke="#333" stroke-width="1"/>
<line x1="656.9" y1="241.4" x2="656.9" y2="244.8" stroke="#333" stroke-width="1"/>
<line x1="663.2" y1="241.4" x2="663.2" y2="244.8" stroke="#333" stroke-width="1"/>
<line x1="669.4" y1="241.4" x2="669.4" y2="244.8" stroke="#333" stroke-width="1"/>
<line x1="675.7" y1="241.4" x2="675.7" y2="248.2" stroke="#222" stroke-width="1.1"/>
<clipPath id="cb0"><rect x="362" y="250" width="20" height="15"/></clipPath>
<text x="361.7" y="262" font-family="'Liberation Sans', sans-serif" font-size="12.2" fill="#333" text-anchor="middle" clip-path="url(#cb0)">0</text>
<text x="393.6" y="262" font-family="'Liberation Sans', sans-serif" font-size="12.2" fill="#333" textLength="5.6" lengthAdjust="spacingAndGlyphs" text-anchor="middle">1</text>
<text x="424.9" y="262" font-family="'Liberation Sans', sans-serif" font-size="12.2" fill="#333" textLength="5.6" lengthAdjust="spacingAndGlyphs" text-anchor="middle">2</text>
<text x="456.2" y="262" font-family="'Liberation Sans', sans-serif" font-size="12.2" fill="#333" textLength="5.6" lengthAdjust="spacingAndGlyphs" text-anchor="middle">3</text>
<text x="487.6" y="262" font-family="'Liberation Sans', sans-serif" font-size="12.2" fill="#333" textLength="5.6" lengthAdjust="spacingAndGlyphs" text-anchor="middle">4</text>
<text x="519" y="262" font-family="'Liberation Sans', sans-serif" font-size="12.2" fill="#333" textLength="5.6" lengthAdjust="spacingAndGlyphs" text-anchor="middle">5</text>
<text x="550.3" y="262" font-family="'Liberation Sans', sans-serif" font-size="12.2" fill="#333" textLength="5.6" lengthAdjust="spacingAndGlyphs" text-anchor="middle">6</text>
<text x="581.6" y="262" font-family="'Liberation Sans', sans-serif" font-size="12.2" fill="#333" textLength="5.6" lengthAdjust="spacingAndGlyphs" text-anchor="middle">7</text>
<text x="613" y="262" font-family="'Liberation Sans', sans-serif" font-size="12.2" fill="#333" textLength="5.6" lengthAdjust="spacingAndGlyphs" text-anchor="middle">8</text>
<text x="644.4" y="262" font-family="'Liberation Sans', sans-serif" font-size="12.2" fill="#333" textLength="5.6" lengthAdjust="spacingAndGlyphs" text-anchor="middle">9</text>
<text x="675.8" y="262" font-family="'Liberation Sans', sans-serif" font-size="12.2" fill="#333" textLength="9.5" lengthAdjust="spacingAndGlyphs" text-anchor="middle">10</text>
<text x="362" y="281.2" font-family="'Liberation Sans', sans-serif" font-size="13" fill="#333" textLength="122.8" lengthAdjust="spacingAndGlyphs">Full Scale 621 cts Cursor: 0.000</text>
<text x="667.9" y="280.8" font-family="'Liberation Sans', sans-serif" font-size="13" fill="#333" textLength="15.2" lengthAdjust="spacingAndGlyphs">keV</text>
<line x1="362" y1="286.4" x2="683" y2="286.4" stroke="#ccc" stroke-width="0.8"/>
<rect x="527.9" y="8.7" width="152.3" height="119.3" fill="#000"/>
<rect x="530" y="10.8" width="148.6" height="113.8" fill="#fff"/>
<text x="537.8" y="29.3" font-family="'Liberation Serif', serif" font-size="14" fill="#111" textLength="36.8" lengthAdjust="spacingAndGlyphs">Element</text>
<text x="587" y="29.3" font-family="'Liberation Serif', serif" font-size="14" fill="#111" textLength="31.7" lengthAdjust="spacingAndGlyphs">Weight</text>
<text x="629.6" y="29.3" font-family="'Liberation Serif', serif" font-size="14" fill="#111" textLength="43" lengthAdjust="spacingAndGlyphs">Atomic%</text>
<text x="537.8" y="63.3" font-family="'Liberation Serif', serif" font-size="14" fill="#111" textLength="18.2" lengthAdjust="spacingAndGlyphs">C K</text>
<text x="587.5" y="63.3" font-family="'Liberation Serif', serif" font-size="14" fill="#111" textLength="24.8" lengthAdjust="spacingAndGlyphs">16.97</text>
<text x="632.9" y="63.3" font-family="'Liberation Serif', serif" font-size="14" fill="#111" textLength="25.5" lengthAdjust="spacingAndGlyphs">29.99</text>
<text x="537.8" y="80.6" font-family="'Liberation Serif', serif" font-size="14" fill="#111" textLength="19.4" lengthAdjust="spacingAndGlyphs">O K</text>
<text x="587.5" y="80.6" font-family="'Liberation Serif', serif" font-size="14" fill="#111" textLength="24.8" lengthAdjust="spacingAndGlyphs">42.14</text>
<text x="632.9" y="80.6" font-family="'Liberation Serif', serif" font-size="14" fill="#111" textLength="25.5" lengthAdjust="spacingAndGlyphs">55.90</text>
<text x="537.8" y="97.5" font-family="'Liberation Serif', serif" font-size="14" fill="#111" textLength="23.9" lengthAdjust="spacingAndGlyphs">Na K</text>
<text x="588.2" y="97.5" font-family="'Liberation Serif', serif" font-size="14" fill="#111" textLength="19.4" lengthAdjust="spacingAndGlyphs">8.35</text>
<text x="632.9" y="97.5" font-family="'Liberation Serif', serif" font-size="14" fill="#111" textLength="18.6" lengthAdjust="spacingAndGlyphs">7.71</text>
<text x="537.8" y="115" font-family="'Liberation Serif', serif" font-size="14" fill="#111" textLength="23.2" lengthAdjust="spacingAndGlyphs">Ag L</text>
<text x="590.2" y="115" font-family="'Liberation Serif', serif" font-size="14" fill="#111" textLength="24.8" lengthAdjust="spacingAndGlyphs">32.54</text>
<text x="632.9" y="115" font-family="'Liberation Serif', serif" font-size="14" fill="#111" textLength="19.8" lengthAdjust="spacingAndGlyphs">6.40</text>
</g>
<g id="panel-c">
<clipPath id="cc"><rect x="3" y="299" width="340.8" height="281"/></clipPath>
<rect x="2.8" y="298.7" width="341.5" height="282" fill="#fff" stroke="#111" stroke-width="1.4"/>
<polyline fill="none" stroke="#000" stroke-width="1.9" stroke-linejoin="round" stroke-linecap="round" points="33.9,383.7 35.3,384 36.8,391.3 38.2,394.2 39.7,389.1 41.9,389.9 43.4,387.7 45.5,391.3 47.4,384 49.2,382.6 50.7,391.3 52.4,397.9 55,401.2 57.2,400.8 59.4,401.5 61.2,403 63.1,416.1 64.5,420.5 66.7,438 68.5,450.3 71.1,451.1 73.3,454.6 75.5,454.6 76.9,443 79.1,414.7 81.3,400 83.1,394.2 85.3,392 86.4,398.6 88.6,417.6 90.8,430.7 93,435.1 95.2,440.2 97.4,437.3 99.6,443.9 101,456 102.5,464.8 103.6,467.7 105,465.5 106.9,453.1 108.1,438 109.8,414.7 111.5,409.6 112.9,414.7 114.4,435 116.6,461.9 118.8,483.8 120.9,502.8 122.4,511.2 123.9,504.2 125.3,483.8 126.8,461.9 128.2,436 130.4,405.9 131.9,397.2 133.1,395.7 134.8,398.6 137,407.4 139.2,420.5 140.7,427.1 142.8,427.8 145,435.1 148,445.3 150.9,448.2 153.8,450.3 161.1,453.4 168.4,454.7 175.7,453.6 183,452.8 185.2,451.8 186.6,446.3 187.8,445.2 189.1,451.5 190.3,458.5 191.3,461.9 192.5,457.5 193.5,449.2 194.7,447.4 196.1,451.1 200.5,452 203.6,451.5 206.6,450.9 209.5,453.4 213.9,450.4 219,450.4 224.1,451.5 229.9,451.9 232.8,453.4 235,447.5 236.2,446.8 237.7,451.2 239.4,448.2 240.9,438 242.3,434.4 243.8,439.5 246,441.7 248.2,443.9 251.1,448.2 254,449 256.2,446.8 258.4,449 261.3,446.8 265,445.6 268.6,443.1 272.3,439.5 275.9,434.4 279.6,427.1 283.2,422 287.6,416.1 291,410 293.1,405.1 296,400 298.9,397.1 301.1,396.4 303.3,399.3 305.2,398.5 307.7,402.9 310.1,406.6 312,402.2 313.5,397.8 315,402.2 316.4,406.3 318.6,404.4 320.1,405.4 322.3,402.9 324.5,397.8 326.6,396.4 329.6,395.6 333.2,394.2 336.1,395.2"/>
<polyline fill="none" stroke="#f00000" stroke-width="1.9" stroke-linejoin="round" stroke-linecap="round" points="33.9,350.4 35.3,354.1 37.2,357 39,351.9 41.2,353.4 43.4,347.5 45.1,350.4 47,346.8 48.5,349 49.9,344.6 52.1,351.9 53.3,356.3 55.5,349 57.2,354.8 59.1,349 61.3,354.8 63.1,358.5 65,353.4 66.4,356.3 67.4,373.8 69.6,417.6 71.1,440 71.8,454.6 72.8,469.2 74,478.7 75.2,480.1 76.9,473.6 78.4,461 79.9,450 81.2,440 82,428 84.2,400 86.4,388.4 87.6,381.8 89.3,391.3 91.5,394.2 93.7,391.3 94.7,389.1 96.6,395.7 98.8,379.6 100.7,376.7 102.5,381.1 104.2,390.6 106.1,380.4 107.6,379.6 109.1,391.3 110.5,408.8 112,388.4 113.2,363 114.5,354.8 115.8,368 117,377.4 118.5,373.8 119.9,369.4 121.4,373.8 122.8,391.3 124.3,417.6 125.8,423.4 127.2,420.5 129,400 130.4,379.6 131.9,373.8 133.4,382.6 134.8,394.2 136.3,382.6 137.7,365 138.9,361.4 140.4,362.1 141.4,351.9 143.3,349 153.8,350.4 164,352.2 174.2,351.6 184.5,351.9 191.8,354.1 200.5,357.7 207.3,360.7 214.6,363.9 220.4,367.2 224.8,371.6 227.7,376.7 229.9,385.5 230.9,394.2 232.8,395.7 234.7,403 236.5,412.5 237.7,411.8 239.1,401.5 241.6,394.2 243.8,392 246,394.2 248.9,400.8 252.6,407.4 256.2,419.1 259.9,430.7 263.5,438.8 267.2,443.1 271.5,445 275.2,443.9 278.8,438.8 282.5,427.8 286.1,413.2 290.5,394.2 294.9,375.3 299.6,358.4 301.4,353.3 304,351.4 308.4,350.8 315.7,351.1 323,351.1 328.8,350.4"/>
<line x1="28.2" y1="338.2" x2="28.2" y2="529" stroke="#000" stroke-width="1.4"/>
<line x1="27.5" y1="528.3" x2="337.9" y2="528.3" stroke="#000" stroke-width="1.4"/>
<line x1="23.8" y1="338.9" x2="28.2" y2="338.9" stroke="#000" stroke-width="1.3"/>
<line x1="23.8" y1="393.2" x2="28.2" y2="393.2" stroke="#000" stroke-width="1.3"/>
<line x1="23.8" y1="447.1" x2="28.2" y2="447.1" stroke="#000" stroke-width="1.3"/>
<line x1="23.8" y1="501.5" x2="28.2" y2="501.5" stroke="#000" stroke-width="1.3"/>
<line x1="25.8" y1="366" x2="28.2" y2="366" stroke="#000" stroke-width="1.2"/>
<line x1="25.8" y1="420.2" x2="28.2" y2="420.2" stroke="#000" stroke-width="1.2"/>
<line x1="25.8" y1="474.4" x2="28.2" y2="474.4" stroke="#000" stroke-width="1.2"/>
<line x1="71.9" y1="528.3" x2="71.9" y2="533" stroke="#000" stroke-width="1.3"/>
<text x="72.5" y="544.5" font-family="'Liberation Serif', serif" font-size="12" fill="#000" textLength="22" lengthAdjust="spacingAndGlyphs" text-anchor="middle" font-weight="bold">1000</text>
<line x1="160.4" y1="528.3" x2="160.4" y2="533" stroke="#000" stroke-width="1.3"/>
<text x="161" y="544.5" font-family="'Liberation Serif', serif" font-size="12" fill="#000" textLength="22" lengthAdjust="spacingAndGlyphs" text-anchor="middle" font-weight="bold">2000</text>
<line x1="248.8" y1="528.3" x2="248.8" y2="533" stroke="#000" stroke-width="1.3"/>
<text x="249.4" y="544.5" font-family="'Liberation Serif', serif" font-size="12" fill="#000" textLength="22" lengthAdjust="spacingAndGlyphs" text-anchor="middle" font-weight="bold">3000</text>
<line x1="337.2" y1="528.3" x2="337.2" y2="533" stroke="#000" stroke-width="1.3"/>
<text x="325.5" y="544.5" font-family="'Liberation Serif', serif" font-size="12" fill="#000" textLength="22" lengthAdjust="spacingAndGlyphs" font-weight="bold" clip-path="url(#cc)">4000</text>
<line x1="27.9" y1="528.3" x2="27.9" y2="531.2" stroke="#000" stroke-width="1.2"/>
<line x1="116.1" y1="528.3" x2="116.1" y2="531.2" stroke="#000" stroke-width="1.2"/>
<line x1="204.6" y1="528.3" x2="204.6" y2="531.2" stroke="#000" stroke-width="1.2"/>
<line x1="293" y1="528.3" x2="293" y2="531.2" stroke="#000" stroke-width="1.2"/>
<text transform="translate(15 501.3) rotate(-90)" font-family="'Liberation Serif', serif" font-size="15.7" fill="#000" textLength="119.8" lengthAdjust="spacingAndGlyphs" font-weight="bold">% Transmittance</text>
<text x="94.5" y="567.2" font-family="'Liberation Serif', serif" font-size="16" fill="#000" textLength="90.2" lengthAdjust="spacingAndGlyphs" font-weight="bold">Wavenumber</text>
<text x="189.6" y="569.4" font-family="'Liberation Serif', serif" font-size="10.5" fill="#000" font-weight="bold">(</text>
<text x="193.4" y="566.9" font-family="'Liberation Serif', serif" font-size="17" fill="#000" textLength="19.6" lengthAdjust="spacingAndGlyphs" font-weight="bold">cm</text>
<text x="213.6" y="562.6" font-family="'Liberation Serif', serif" font-size="15.5" fill="#000" textLength="11.7" lengthAdjust="spacingAndGlyphs" font-weight="bold">-1</text>
<text x="226.4" y="569.4" font-family="'Liberation Serif', serif" font-size="10.5" fill="#000" font-weight="bold">)</text>
<text x="39.6" y="336.6" font-family="'Liberation Serif', serif" font-size="34" fill="#000" textLength="13.6" lengthAdjust="spacingAndGlyphs" font-weight="bold">c</text>
<line x1="199.3" y1="484.6" x2="223.9" y2="484.6" stroke="#f00000" stroke-width="1.7"/>
<text x="227.4" y="488.4" font-family="'Liberation Serif', serif" font-size="10.8" fill="#000" textLength="97.4" lengthAdjust="spacingAndGlyphs" font-weight="bold">kokum fruit extract</text>
<line x1="197.5" y1="504.5" x2="222.7" y2="504.5" stroke="#000" stroke-width="1.7"/>
<text x="225.5" y="508.5" font-family="'Liberation Serif', serif" font-size="10.8" fill="#000" textLength="33.9" lengthAdjust="spacingAndGlyphs" font-weight="bold">AgNPs</text>
<line x1="119.2" y1="343.5" x2="119.2" y2="369.3" stroke="#222" stroke-width="0.8"/>
<polygon fill="#000" points="119.2,369.3 117.5,365.1 120.9,365.1"/>
<line x1="147.9" y1="378.6" x2="142.2" y2="363.2" stroke="#222" stroke-width="0.8"/>
<polygon fill="#000" points="142.2,363.2 145.3,366.5 142.1,367.7"/>
<line x1="104.1" y1="369.7" x2="110" y2="406" stroke="#666" stroke-width="0.8"/>
<polygon fill="#000" points="110,406 107.6,402.1 111,401.6"/>
<text transform="translate(105 362.6) rotate(-90)" font-family="'Liberation Serif', serif" font-size="12" fill="#000" textLength="22" lengthAdjust="spacingAndGlyphs" font-weight="bold">1525</text>
<text transform="translate(121.7 334.9) rotate(-90)" font-family="'Liberation Serif', serif" font-size="12" fill="#000" textLength="22" lengthAdjust="spacingAndGlyphs" font-weight="bold">1621</text>
<text transform="translate(155.2 402.6) rotate(-90)" font-family="'Liberation Serif', serif" font-size="12" fill="#000" textLength="22" lengthAdjust="spacingAndGlyphs" font-weight="bold">1788</text>
<text transform="translate(197.4 415) rotate(-90)" font-family="'Liberation Serif', serif" font-size="12" fill="#000" textLength="22" lengthAdjust="spacingAndGlyphs" font-weight="bold">2349</text>
<text transform="translate(275.7 414.7) rotate(-90)" font-family="'Liberation Serif', serif" font-size="12" fill="#000" textLength="22" lengthAdjust="spacingAndGlyphs" font-weight="bold">3345</text>
<text transform="translate(144.8 473.6) rotate(-90)" font-family="'Liberation Serif', serif" font-size="12" fill="#000" textLength="22" lengthAdjust="spacingAndGlyphs" font-weight="bold">1780</text>
<text transform="translate(137.5 525) rotate(-90)" font-family="'Liberation Serif', serif" font-size="12" fill="#000" textLength="22" lengthAdjust="spacingAndGlyphs" font-weight="bold">1635</text>
<line x1="191.8" y1="420.5" x2="191.8" y2="442.4" stroke="#222" stroke-width="0.8"/>
<polygon fill="#000" points="191.8,442.4 190.1,438.2 193.5,438.2"/>
<line x1="138.8" y1="447.5" x2="138.8" y2="433.6" stroke="#222" stroke-width="0.8"/>
<polygon fill="#000" points="138.8,433.6 140.5,437.8 137.1,437.8"/>
<line x1="123.4" y1="524.7" x2="123.4" y2="513.7" stroke="#222" stroke-width="0.8"/>
<polygon fill="#000" points="123.4,513.7 125.1,517.9 121.7,517.9"/>
<line x1="271.5" y1="420.5" x2="271.5" y2="439.5" stroke="#777" stroke-width="0.8"/>
</g>
<g id="panel-d">
<defs>
<clipPath id="cd"><rect x="361.2" y="301.6" width="322" height="279.6"/></clipPath>
<filter id="bl4" x="-20%" y="-20%" width="140%" height="140%"><feGaussianBlur stdDeviation="3.5"/></filter>
<filter id="bl8" x="-20%" y="-20%" width="140%" height="140%"><feGaussianBlur stdDeviation="7"/></filter>
<filter id="bl1" x="-20%" y="-20%" width="140%" height="140%"><feGaussianBlur stdDeviation="1.3"/></filter>
<filter id="bl3" x="-30%" y="-30%" width="160%" height="160%"><feGaussianBlur stdDeviation="2.2"/></filter>
<filter id="grainD" x="0" y="0" width="100%" height="100%"><feTurbulence type="fractalNoise" baseFrequency="0.5" numOctaves="2" seed="4"/><feColorMatrix type="matrix" values="0 0 0 0 0  0 0 0 0 0  0 0 0 0 0  0.22 0 0 0 -0.1"/></filter>
<filter id="grainL" x="0" y="0" width="100%" height="100%"><feTurbulence type="fractalNoise" baseFrequency="0.5" numOctaves="2" seed="9"/><feColorMatrix type="matrix" values="0 0 0 0 1  0 0 0 0 1  0 0 0 0 1  0 1.0 0 0 -0.48"/></filter>
<radialGradient id="pg" cx="50%" cy="50%" r="55%"><stop offset="0" stop-color="#1a1a1a"/><stop offset="0.55" stop-color="#222"/><stop offset="1" stop-color="#404040"/></radialGradient>
</defs>
<rect x="360.7" y="301.2" width="323.2" height="280.5" fill="#e4e4e4"/>
<g clip-path="url(#cd)">
<polygon fill="#d2d2d2" points="458.6,297.4 692.2,297.4 692.2,388.9 653.7,415.4 632,434.7 619.9,456.4 566.9,466 554.9,478 550.1,497.3 533.2,506.9 526,521.4 526,545.5 509.1,569.6 499.5,593.7 427.3,593.7 422.4,526.2 427.3,511.8 446.5,497.3 470.6,485.3 468.2,473.2 458.6,454 461,434.7 458.6,413 427.3,396.2 403.2,376.9 432.1,348 448.9,323.9" filter="url(#bl4)"/>
<polygon fill="#c5c5c5" points="475.4,297.4 692.2,297.4 692.2,384.1 651.2,410.6 629.6,429.9 617.5,451.6 566.9,461.2 547.7,473.2 514,454 485.1,425.1 475.4,405.8 451.3,381.7 458.6,343.2 470.6,319.1" filter="url(#bl8)"/>
<polygon fill="#ececec" points="566.9,482.9 624.7,468.4 644,497.3 639.2,545.5 624.7,593.7 562.1,593.7 552.5,535.8" filter="url(#bl8)"/>
<rect x="361" y="301" width="323" height="281" filter="url(#grainD)"/>
<rect x="361" y="301" width="323" height="281" filter="url(#grainL)"/>
<path d="M458.9 396.4C458.2 390.2 459.3 389.1 465 385.3C470.7 381.5 473.6 380.4 481.6 381.1C489.6 381.8 491.2 383.1 496.9 388C502.6 392.9 504.4 394.6 504.4 400.5C504.4 406.4 502.6 407.7 496.9 411.6C491.2 415.6 488.9 416.7 481.6 416.3C474.3 415.9 473.4 415.2 467.7 410.2C462 405.2 459.6 402.6 458.9 396.4Z" fill="#9a9a9a" opacity="0.55" filter="url(#bl3)" transform="translate(0 0)"/>
<path d="M547.9 347.9C547.5 344.1 552.3 335.1 555.8 333C559.3 330.9 573.6 328.2 577.7 329.5C581.8 330.8 590.2 340.7 590.8 344.4C591.4 348.1 586.6 358.6 582.9 361C579.2 363.4 563.4 366.9 559.3 365.4C555.2 363.9 548.3 351.7 547.9 347.9Z" fill="#9a9a9a" opacity="0.55" filter="url(#bl3)" transform="translate(0 0)"/>
<path d="M622.3 311.7C628.2 312.1 632.5 312.4 637.2 316.4C641.9 320.4 642.9 323 642.5 328.7C642.1 334.4 640.2 336.7 635.5 340.9C630.8 345.1 628.4 347.3 622.3 346.7C616.2 346.1 613.4 343.5 609.2 338.3C605 333.1 603.9 329.8 604.5 324.3C605.1 318.8 607.6 317.5 611.8 314.6C616 311.7 616.4 311.3 622.3 311.7Z" fill="#9a9a9a" opacity="0.55" filter="url(#bl3)" transform="translate(0 0)"/>
<path d="M564.3 444.9C564.7 439.4 565 437.6 571.8 432.4C578.6 427.2 580.9 426.2 589.8 425.5C598.7 424.8 599.1 425.5 605 429.6C610.9 433.7 612.3 434.4 612 440.7C611.7 447 610.4 448.7 603.7 453.2C597 457.7 595.9 457.4 587 457.4C578.1 457.4 576.5 456.5 570.4 453.2C564.3 449.9 563.9 450.4 564.3 444.9Z" fill="#9a9a9a" opacity="0.55" filter="url(#bl3)" transform="translate(0 0)"/>
<path d="M429.6 535C430.1 529.9 430.4 530.1 434.3 525.1C438.2 520.1 438.4 519.4 444.2 516.4C450 513.4 449.4 513.7 455.9 514C462.4 514.3 463.1 514.2 468.7 517.5C474.3 520.8 473.9 521.8 476.9 526.3C479.9 530.8 480.1 529.8 479.8 534.5C479.5 539.2 479.3 538.8 475.7 543.8C472.1 548.8 472 549.4 466.4 553.1C460.8 556.8 461.2 557.6 454.7 557.8C448.2 558 447.8 557.3 441.9 553.7C436 550.1 435.8 549.4 432.5 544.4C429.2 539.4 429.1 540.1 429.6 535Z" fill="#9a9a9a" opacity="0.55" filter="url(#bl3)" transform="translate(0 0)"/>
<clipPath id="pc0"><path d="M458.9 396.4C458.2 390.2 459.3 389.1 465 385.3C470.7 381.5 473.6 380.4 481.6 381.1C489.6 381.8 491.2 383.1 496.9 388C502.6 392.9 504.4 394.6 504.4 400.5C504.4 406.4 502.6 407.7 496.9 411.6C491.2 415.6 488.9 416.7 481.6 416.3C474.3 415.9 473.4 415.2 467.7 410.2C462 405.2 459.6 402.6 458.9 396.4Z"/></clipPath>
<g filter="url(#bl1)"><path d="M458.9 396.4C458.2 390.2 459.3 389.1 465 385.3C470.7 381.5 473.6 380.4 481.6 381.1C489.6 381.8 491.2 383.1 496.9 388C502.6 392.9 504.4 394.6 504.4 400.5C504.4 406.4 502.6 407.7 496.9 411.6C491.2 415.6 488.9 416.7 481.6 416.3C474.3 415.9 473.4 415.2 467.7 410.2C462 405.2 459.6 402.6 458.9 396.4Z" fill="#2e2e2e"/>
</g>
<clipPath id="pc1"><path d="M547.9 347.9C547.5 344.1 552.3 335.1 555.8 333C559.3 330.9 573.6 328.2 577.7 329.5C581.8 330.8 590.2 340.7 590.8 344.4C591.4 348.1 586.6 358.6 582.9 361C579.2 363.4 563.4 366.9 559.3 365.4C555.2 363.9 548.3 351.7 547.9 347.9Z"/></clipPath>
<g filter="url(#bl1)"><path d="M547.9 347.9C547.5 344.1 552.3 335.1 555.8 333C559.3 330.9 573.6 328.2 577.7 329.5C581.8 330.8 590.2 340.7 590.8 344.4C591.4 348.1 586.6 358.6 582.9 361C579.2 363.4 563.4 366.9 559.3 365.4C555.2 363.9 548.3 351.7 547.9 347.9Z" fill="#2e2e2e"/>
</g>
<clipPath id="pc2"><path d="M622.3 311.7C628.2 312.1 632.5 312.4 637.2 316.4C641.9 320.4 642.9 323 642.5 328.7C642.1 334.4 640.2 336.7 635.5 340.9C630.8 345.1 628.4 347.3 622.3 346.7C616.2 346.1 613.4 343.5 609.2 338.3C605 333.1 603.9 329.8 604.5 324.3C605.1 318.8 607.6 317.5 611.8 314.6C616 311.7 616.4 311.3 622.3 311.7Z"/></clipPath>
<g filter="url(#bl1)"><path d="M622.3 311.7C628.2 312.1 632.5 312.4 637.2 316.4C641.9 320.4 642.9 323 642.5 328.7C642.1 334.4 640.2 336.7 635.5 340.9C630.8 345.1 628.4 347.3 622.3 346.7C616.2 346.1 613.4 343.5 609.2 338.3C605 333.1 603.9 329.8 604.5 324.3C605.1 318.8 607.6 317.5 611.8 314.6C616 311.7 616.4 311.3 622.3 311.7Z" fill="#2e2e2e"/>
</g>
<clipPath id="pc3"><path d="M564.3 444.9C564.7 439.4 565 437.6 571.8 432.4C578.6 427.2 580.9 426.2 589.8 425.5C598.7 424.8 599.1 425.5 605 429.6C610.9 433.7 612.3 434.4 612 440.7C611.7 447 610.4 448.7 603.7 453.2C597 457.7 595.9 457.4 587 457.4C578.1 457.4 576.5 456.5 570.4 453.2C564.3 449.9 563.9 450.4 564.3 444.9Z"/></clipPath>
<g filter="url(#bl1)"><path d="M564.3 444.9C564.7 439.4 565 437.6 571.8 432.4C578.6 427.2 580.9 426.2 589.8 425.5C598.7 424.8 599.1 425.5 605 429.6C610.9 433.7 612.3 434.4 612 440.7C611.7 447 610.4 448.7 603.7 453.2C597 457.7 595.9 457.4 587 457.4C578.1 457.4 576.5 456.5 570.4 453.2C564.3 449.9 563.9 450.4 564.3 444.9Z" fill="#2e2e2e"/>
</g>
<clipPath id="pc4"><path d="M429.6 535C430.1 529.9 430.4 530.1 434.3 525.1C438.2 520.1 438.4 519.4 444.2 516.4C450 513.4 449.4 513.7 455.9 514C462.4 514.3 463.1 514.2 468.7 517.5C474.3 520.8 473.9 521.8 476.9 526.3C479.9 530.8 480.1 529.8 479.8 534.5C479.5 539.2 479.3 538.8 475.7 543.8C472.1 548.8 472 549.4 466.4 553.1C460.8 556.8 461.2 557.6 454.7 557.8C448.2 558 447.8 557.3 441.9 553.7C436 550.1 435.8 549.4 432.5 544.4C429.2 539.4 429.1 540.1 429.6 535Z"/></clipPath>
<g filter="url(#bl1)"><path d="M429.6 535C430.1 529.9 430.4 530.1 434.3 525.1C438.2 520.1 438.4 519.4 444.2 516.4C450 513.4 449.4 513.7 455.9 514C462.4 514.3 463.1 514.2 468.7 517.5C474.3 520.8 473.9 521.8 476.9 526.3C479.9 530.8 480.1 529.8 479.8 534.5C479.5 539.2 479.3 538.8 475.7 543.8C472.1 548.8 472 549.4 466.4 553.1C460.8 556.8 461.2 557.6 454.7 557.8C448.2 558 447.8 557.3 441.9 553.7C436 550.1 435.8 549.4 432.5 544.4C429.2 539.4 429.1 540.1 429.6 535Z" fill="#2e2e2e"/>
</g>
<g clip-path="url(#pc0)"><ellipse cx="464" cy="392" rx="6" ry="6" fill="#585858" opacity="0.5" filter="url(#bl3)"/></g>
<g clip-path="url(#pc0)"><ellipse cx="487" cy="401" rx="9" ry="7" fill="#0c0c0c" opacity="0.6" filter="url(#bl3)"/></g>
<g clip-path="url(#pc0)"><ellipse cx="474" cy="409" rx="6" ry="4" fill="#101010" opacity="0.5" filter="url(#bl3)"/></g>
<g clip-path="url(#pc1)"><ellipse cx="558" cy="337" rx="7" ry="5" fill="#5c5c5c" opacity="0.5" filter="url(#bl3)"/></g>
<g clip-path="url(#pc1)"><ellipse cx="569" cy="362" rx="12" ry="4" fill="#555" opacity="0.5" filter="url(#bl3)"/></g>
<g clip-path="url(#pc1)"><ellipse cx="570" cy="346" rx="16" ry="4" fill="#0a0a0a" opacity="0.7" filter="url(#bl3)"/></g>
<g clip-path="url(#pc1)"><ellipse cx="587" cy="350" rx="3" ry="6" fill="#4a4a4a" opacity="0.4" filter="url(#bl3)"/></g>
<g clip-path="url(#pc2)"><ellipse cx="636" cy="328" rx="5" ry="12" fill="#4c4c4c" opacity="0.5" filter="url(#bl3)"/></g>
<g clip-path="url(#pc2)"><ellipse cx="617" cy="329" rx="8" ry="10" fill="#0a0a0a" opacity="0.7" filter="url(#bl3)"/></g>
<g clip-path="url(#pc3)"><ellipse cx="570" cy="444" rx="6" ry="8" fill="#5a5a5a" opacity="0.5" filter="url(#bl3)"/></g>
<g clip-path="url(#pc3)"><ellipse cx="594" cy="441" rx="11" ry="9" fill="#0c0c0c" opacity="0.7" filter="url(#bl3)"/></g>
<g clip-path="url(#pc3)"><ellipse cx="585" cy="454" rx="10" ry="3" fill="#4a4a4a" opacity="0.3" filter="url(#bl3)"/></g>
<g clip-path="url(#pc4)"><ellipse cx="455" cy="535" rx="20" ry="17" fill="#0a0a0a" opacity="0.6" filter="url(#bl3)"/></g>
<g clip-path="url(#pc4)"><ellipse cx="454" cy="554" rx="8" ry="3" fill="#4a4a4a" opacity="0.5" filter="url(#bl3)"/></g>
<g clip-path="url(#pc4)"><ellipse cx="434" cy="533" rx="3" ry="8" fill="#484848" opacity="0.4" filter="url(#bl3)"/></g>
<g clip-path="url(#pc4)"><ellipse cx="472" cy="523" rx="4" ry="4" fill="#3e3e3e" opacity="0.4" filter="url(#bl3)"/></g>
</g>
<rect x="360.7" y="301.2" width="323.2" height="280.5" fill="none" stroke="#3a3a3a" stroke-width="1.4"/>
<text x="370.2" y="341.8" font-family="'Liberation Serif', serif" font-size="33" fill="#000" textLength="17.2" lengthAdjust="spacingAndGlyphs" font-weight="bold">d</text>
<text x="382.6" y="558.8" font-family="'DejaVu Sans', 'Liberation Sans', sans-serif" font-size="17" fill="#fff" textLength="20.8" lengthAdjust="spacingAndGlyphs">20</text>
<text x="418.3" y="558.8" font-family="'DejaVu Sans', 'Liberation Sans', sans-serif" font-size="17" fill="#fff" textLength="21.6" lengthAdjust="spacingAndGlyphs">nm</text>
<rect x="381.8" y="562.8" width="27.8" height="2" fill="#fff"/>
</g>
<g id="panel-e">
<defs>
<clipPath id="ce"><rect x="4" y="593" width="338.8" height="281.2"/></clipPath>
<radialGradient id="eg" gradientUnits="userSpaceOnUse" cx="0" cy="0" r="185"><stop offset="0.000" stop-color="#fff"/><stop offset="0.076" stop-color="#fff"/><stop offset="0.108" stop-color="#f0f0f0"/><stop offset="0.141" stop-color="#cacaca"/><stop offset="0.173" stop-color="#a4a4a4"/><stop offset="0.205" stop-color="#8a8a8a"/><stop offset="0.238" stop-color="#747474"/><stop offset="0.270" stop-color="#606060"/><stop offset="0.303" stop-color="#4c4c4c"/><stop offset="0.335" stop-color="#3c3c3c"/><stop offset="0.378" stop-color="#313131"/><stop offset="0.459" stop-color="#262626"/><stop offset="0.541" stop-color="#1d1d1d"/><stop offset="0.649" stop-color="#151515"/><stop offset="0.784" stop-color="#0e0e0e"/><stop offset="0.919" stop-color="#080808"/><stop offset="1.000" stop-color="#050505"/></radialGradient>
<filter id="eb1" x="-10%" y="-10%" width="120%" height="120%"><feGaussianBlur stdDeviation="1.5"/></filter>
<filter id="eb2" x="-10%" y="-10%" width="120%" height="120%"><feGaussianBlur stdDeviation="0.6"/></filter>
<filter id="eb0" x="-10%" y="-10%" width="120%" height="120%"><feGaussianBlur stdDeviation="0.65"/></filter>
</defs>
<rect x="2.5" y="591.4" width="342.1" height="284.4" fill="#000" stroke="#222" stroke-width="0.9"/>
<rect x="3.5" y="592.4" width="340.1" height="282.4" fill="none" stroke="#9a9a9a" stroke-width="1"/>
<g clip-path="url(#ce)">
<g transform="translate(167.3 722.5) scale(1 0.89)"><circle cx="0" cy="0" r="400" fill="url(#eg)"/></g>
<g filter="url(#eb1)">
<ellipse cx="167.3" cy="722.5" rx="54.3" ry="49.6" fill="none" stroke="#dcdcdc" stroke-width="3.6" opacity="0.7"/>
<ellipse cx="167.3" cy="722.5" rx="64" ry="57.8" fill="none" stroke="#a0a0a0" stroke-width="2.6" opacity="0.4"/>
<ellipse cx="167.3" cy="722.5" rx="92" ry="79" fill="none" stroke="#9a9a9a" stroke-width="3" opacity="0.3"/>
<ellipse cx="167.3" cy="722.5" rx="111.5" ry="92.5" fill="none" stroke="#8a8a8a" stroke-width="3" opacity="0.3"/>
<ellipse cx="167.3" cy="722.5" rx="139.5" ry="118.5" fill="none" stroke="#707070" stroke-width="3.2" opacity="0.2"/>
</g>
<g filter="url(#eb0)">
<circle cx="117.2" cy="736.6" r="1" fill="#fff" opacity="0.70"/>
<circle cx="200.1" cy="683.9" r="0.8" fill="#fff" opacity="0.48"/>
<circle cx="114.2" cy="718.9" r="0.7" fill="#fff" opacity="0.69"/>
<circle cx="200.7" cy="760.2" r="1.1" fill="#fff" opacity="0.99"/>
<circle cx="147.5" cy="673.7" r="1" fill="#fff" opacity="0.86"/>
<circle cx="126.2" cy="689.1" r="0.8" fill="#fff" opacity="0.84"/>
<circle cx="194.1" cy="679.1" r="0.8" fill="#fff" opacity="0.82"/>
<circle cx="176.9" cy="673.6" r="0.9" fill="#fff" opacity="0.69"/>
<circle cx="196.4" cy="682.1" r="1" fill="#fff" opacity="0.34"/>
<circle cx="213.9" cy="747.7" r="1.4" fill="#fff" opacity="0.56"/>
<circle cx="223.3" cy="721.7" r="1.4" fill="#fff" opacity="0.54"/>
<circle cx="170" cy="673" r="1.1" fill="#fff" opacity="0.57"/>
<circle cx="216.5" cy="743.7" r="0.9" fill="#fff" opacity="0.64"/>
<circle cx="218.8" cy="709.8" r="1.4" fill="#fff" opacity="0.33"/>
<circle cx="181.1" cy="771.3" r="1.4" fill="#fff" opacity="0.65"/>
<circle cx="215.5" cy="744.2" r="1.4" fill="#fff" opacity="0.49"/>
<circle cx="142.8" cy="678.7" r="0.7" fill="#fff" opacity="1.00"/>
<circle cx="170.1" cy="672.3" r="0.7" fill="#fff" opacity="0.44"/>
<circle cx="152.5" cy="673.7" r="1" fill="#fff" opacity="0.48"/>
<circle cx="116.7" cy="704.4" r="1" fill="#fff" opacity="0.74"/>
<circle cx="221.5" cy="717.9" r="1" fill="#fff" opacity="0.43"/>
<circle cx="120.4" cy="745.7" r="0.8" fill="#fff" opacity="0.33"/>
<circle cx="203.8" cy="684.3" r="0.7" fill="#fff" opacity="0.50"/>
<circle cx="124.7" cy="753" r="1.1" fill="#fff" opacity="0.85"/>
<circle cx="211.7" cy="752.1" r="0.9" fill="#fff" opacity="0.34"/>
<circle cx="125.6" cy="690.8" r="0.9" fill="#fff" opacity="0.64"/>
<circle cx="216.1" cy="745" r="0.7" fill="#fff" opacity="0.82"/>
<circle cx="128.9" cy="759.2" r="1" fill="#fff" opacity="0.44"/>
<circle cx="120.8" cy="696.5" r="1" fill="#fff" opacity="0.48"/>
<circle cx="197.8" cy="763" r="0.8" fill="#fff" opacity="0.99"/>
<circle cx="167.5" cy="772.6" r="1.1" fill="#fff" opacity="0.49"/>
<circle cx="220.3" cy="706.8" r="1" fill="#fff" opacity="0.82"/>
<circle cx="119.3" cy="746.1" r="0.9" fill="#fff" opacity="0.53"/>
<circle cx="152" cy="674.8" r="0.9" fill="#fff" opacity="0.67"/>
<circle cx="211.3" cy="695.2" r="1.4" fill="#fff" opacity="1.00"/>
<circle cx="205.4" cy="757.9" r="1" fill="#fff" opacity="0.78"/>
<circle cx="199.5" cy="683.3" r="0.8" fill="#fff" opacity="0.94"/>
<circle cx="216.1" cy="743.2" r="1" fill="#fff" opacity="0.69"/>
<circle cx="218.1" cy="741" r="1.1" fill="#fff" opacity="1.00"/>
<circle cx="213.4" cy="750.1" r="0.8" fill="#fff" opacity="1.00"/>
<circle cx="220.4" cy="716.5" r="1.1" fill="#fff" opacity="1.00"/>
<circle cx="122.4" cy="696.6" r="0.7" fill="#fff" opacity="0.72"/>
<circle cx="133.4" cy="761.1" r="1.1" fill="#fff" opacity="0.85"/>
<circle cx="113.1" cy="728" r="1.4" fill="#fff" opacity="0.58"/>
<circle cx="203.4" cy="760.7" r="0.9" fill="#fff" opacity="0.93"/>
<circle cx="211.6" cy="693.1" r="1.4" fill="#fff" opacity="0.93"/>
<circle cx="205.1" cy="759.1" r="0.7" fill="#fff" opacity="0.89"/>
<circle cx="211.2" cy="693.7" r="1" fill="#fff" opacity="1.00"/>
<circle cx="220.5" cy="731.8" r="1.4" fill="#fff" opacity="0.64"/>
<circle cx="120.2" cy="697.9" r="1.1" fill="#fff" opacity="0.39"/>
<circle cx="213.5" cy="749.5" r="1" fill="#fff" opacity="0.92"/>
<circle cx="125.5" cy="754.8" r="1.4" fill="#fff" opacity="0.89"/>
<circle cx="116" cy="735.2" r="1.1" fill="#fff" opacity="0.94"/>
<circle cx="220.9" cy="731.8" r="1.1" fill="#fff" opacity="0.40"/>
<circle cx="221.5" cy="729.5" r="1.1" fill="#fff" opacity="0.87"/>
<circle cx="113.3" cy="726.8" r="0.7" fill="#fff" opacity="0.63"/>
<circle cx="200.5" cy="760.7" r="0.9" fill="#fff" opacity="0.87"/>
<circle cx="117.2" cy="739.9" r="0.8" fill="#fff" opacity="0.60"/>
<circle cx="139.8" cy="679.4" r="0.8" fill="#fff" opacity="1.00"/>
<circle cx="126" cy="756" r="1.1" fill="#fff" opacity="1.00"/>
<circle cx="183.4" cy="779" r="0.7" fill="#fff" opacity="0.76"/>
<circle cx="228.8" cy="704.4" r="0.9" fill="#fff" opacity="0.84"/>
<circle cx="214.3" cy="758.8" r="1" fill="#fff" opacity="0.54"/>
<circle cx="103.4" cy="715.2" r="1.4" fill="#fff" opacity="0.49"/>
<circle cx="201.8" cy="672.7" r="0.7" fill="#fff" opacity="0.84"/>
<circle cx="156.1" cy="779.3" r="1.1" fill="#fff" opacity="0.31"/>
<circle cx="151" cy="667.3" r="1.1" fill="#fff" opacity="0.29"/>
<circle cx="209.1" cy="765.8" r="1" fill="#fff" opacity="0.41"/>
<circle cx="175" cy="665.3" r="0.7" fill="#fff" opacity="0.95"/>
<circle cx="216.4" cy="761.8" r="0.7" fill="#fff" opacity="0.71"/>
<circle cx="130.9" cy="674" r="1.4" fill="#fff" opacity="0.41"/>
<circle cx="195" cy="672.7" r="0.9" fill="#fff" opacity="0.40"/>
<circle cx="229.8" cy="726.3" r="0.8" fill="#fff" opacity="0.43"/>
<circle cx="178.8" cy="665.4" r="1.1" fill="#fff" opacity="0.75"/>
<circle cx="105" cy="715.2" r="1" fill="#fff" opacity="0.86"/>
<circle cx="147.8" cy="668.5" r="0.8" fill="#fff" opacity="0.34"/>
<circle cx="225.6" cy="698.8" r="1" fill="#fff" opacity="0.41"/>
<circle cx="215.6" cy="685.2" r="0.7" fill="#fff" opacity="0.54"/>
<circle cx="108.1" cy="697.8" r="0.9" fill="#fff" opacity="0.60"/>
<circle cx="130.8" cy="676.4" r="0.8" fill="#fff" opacity="0.35"/>
<circle cx="210.4" cy="679" r="0.7" fill="#fff" opacity="0.43"/>
<circle cx="217.5" cy="689.7" r="0.7" fill="#fff" opacity="0.94"/>
<circle cx="104.8" cy="709.2" r="1.4" fill="#fff" opacity="0.86"/>
<circle cx="130.6" cy="769" r="0.7" fill="#fff" opacity="0.31"/>
<circle cx="132.7" cy="770.4" r="0.7" fill="#fff" opacity="0.43"/>
<circle cx="210.6" cy="679.5" r="1" fill="#fff" opacity="0.82"/>
<circle cx="196.7" cy="772.9" r="0.8" fill="#fff" opacity="0.60"/>
<circle cx="232.7" cy="722.4" r="1.4" fill="#fff" opacity="0.63"/>
<circle cx="140" cy="672.1" r="1.1" fill="#fff" opacity="0.93"/>
<circle cx="222.8" cy="752.6" r="0.8" fill="#fff" opacity="0.58"/>
<circle cx="107.1" cy="701.4" r="0.8" fill="#fff" opacity="0.64"/>
<circle cx="202.3" cy="675.3" r="1.1" fill="#fff" opacity="0.45"/>
<circle cx="136.1" cy="670.1" r="1.1" fill="#fff" opacity="0.42"/>
<circle cx="204.9" cy="676.3" r="1.1" fill="#fff" opacity="0.64"/>
<circle cx="109.6" cy="696.8" r="1.1" fill="#fff" opacity="0.28"/>
<circle cx="120.7" cy="763.6" r="1.1" fill="#fff" opacity="0.94"/>
<circle cx="104.9" cy="716.8" r="1.1" fill="#fff" opacity="0.36"/>
<circle cx="221.4" cy="755" r="0.8" fill="#fff" opacity="0.32"/>
<circle cx="107.1" cy="709" r="1" fill="#fff" opacity="0.46"/>
<circle cx="103.1" cy="732.4" r="0.8" fill="#fff" opacity="0.51"/>
<circle cx="220.8" cy="687.7" r="1.1" fill="#fff" opacity="0.50"/>
<circle cx="190" cy="775.7" r="1.1" fill="#fff" opacity="0.30"/>
<circle cx="163.2" cy="779.4" r="0.7" fill="#fff" opacity="0.41"/>
<circle cx="176.1" cy="777.4" r="1.4" fill="#fff" opacity="0.47"/>
<circle cx="156.7" cy="665.5" r="1" fill="#fff" opacity="0.78"/>
<circle cx="213.9" cy="763.5" r="1.1" fill="#fff" opacity="0.70"/>
<circle cx="154.5" cy="666.4" r="0.7" fill="#fff" opacity="0.54"/>
<circle cx="114.1" cy="751.5" r="1.1" fill="#fff" opacity="0.70"/>
<circle cx="104.4" cy="708.6" r="0.8" fill="#fff" opacity="0.64"/>
<circle cx="204.8" cy="676.7" r="1.1" fill="#fff" opacity="0.68"/>
<circle cx="228.2" cy="783.1" r="0.9" fill="#fff" opacity="0.78"/>
<circle cx="130.6" cy="794.2" r="0.9" fill="#fff" opacity="0.77"/>
<circle cx="198.7" cy="796.9" r="0.7" fill="#fff" opacity="0.32"/>
<circle cx="173.4" cy="800.7" r="1.4" fill="#fff" opacity="0.30"/>
<circle cx="98.7" cy="772.4" r="1.1" fill="#fff" opacity="0.72"/>
<circle cx="232.5" cy="779.3" r="1" fill="#fff" opacity="0.62"/>
<circle cx="195.4" cy="646.3" r="0.9" fill="#fff" opacity="0.79"/>
<circle cx="258.1" cy="706.8" r="0.7" fill="#fff" opacity="0.66"/>
<circle cx="107.5" cy="664.7" r="0.8" fill="#fff" opacity="0.72"/>
<circle cx="73.2" cy="731.7" r="0.7" fill="#fff" opacity="0.27"/>
<circle cx="81.2" cy="697.7" r="0.8" fill="#fff" opacity="0.36"/>
<circle cx="236.2" cy="774.7" r="0.8" fill="#fff" opacity="0.74"/>
<circle cx="259.5" cy="717.7" r="0.7" fill="#fff" opacity="0.32"/>
<circle cx="128.7" cy="651" r="0.7" fill="#fff" opacity="0.70"/>
<circle cx="125.1" cy="791.5" r="1" fill="#fff" opacity="0.37"/>
<circle cx="102.8" cy="779.2" r="1.4" fill="#fff" opacity="0.66"/>
<circle cx="218.9" cy="656.6" r="1.4" fill="#fff" opacity="0.47"/>
<circle cx="249.2" cy="684.8" r="1.1" fill="#fff" opacity="0.34"/>
<circle cx="73.7" cy="716.1" r="1.4" fill="#fff" opacity="0.77"/>
<circle cx="244.7" cy="679.5" r="1" fill="#fff" opacity="0.58"/>
<circle cx="200.4" cy="795.5" r="0.9" fill="#fff" opacity="0.41"/>
<circle cx="235.5" cy="774.9" r="1.4" fill="#fff" opacity="0.71"/>
<circle cx="203" cy="651.4" r="1.1" fill="#fff" opacity="0.66"/>
<circle cx="177.4" cy="642.9" r="0.8" fill="#fff" opacity="0.49"/>
<circle cx="151.4" cy="643.9" r="1" fill="#fff" opacity="0.31"/>
<circle cx="237.7" cy="671.2" r="1.4" fill="#fff" opacity="0.78"/>
<circle cx="254.6" cy="746.6" r="0.9" fill="#fff" opacity="0.45"/>
<circle cx="116.7" cy="653.9" r="1.1" fill="#fff" opacity="0.35"/>
<circle cx="247.9" cy="758.7" r="0.8" fill="#fff" opacity="0.66"/>
<circle cx="174.1" cy="643.8" r="1.1" fill="#fff" opacity="0.26"/>
<circle cx="98.5" cy="670.1" r="1" fill="#fff" opacity="0.55"/>
<circle cx="173.8" cy="644.4" r="1.4" fill="#fff" opacity="0.47"/>
<circle cx="242.2" cy="768.3" r="1.1" fill="#fff" opacity="0.57"/>
<circle cx="86.2" cy="763.4" r="1.1" fill="#fff" opacity="0.58"/>
<circle cx="258.2" cy="720.1" r="0.7" fill="#fff" opacity="0.57"/>
<circle cx="122.8" cy="654.7" r="0.7" fill="#fff" opacity="0.47"/>
<circle cx="250.9" cy="693.5" r="1" fill="#fff" opacity="0.57"/>
<circle cx="90.4" cy="676.6" r="1" fill="#fff" opacity="0.81"/>
<circle cx="87.5" cy="759.7" r="0.9" fill="#fff" opacity="0.56"/>
<circle cx="76" cy="730.8" r="0.9" fill="#fff" opacity="0.58"/>
<circle cx="148.1" cy="799.6" r="0.7" fill="#fff" opacity="0.70"/>
<circle cx="89" cy="682.3" r="1.4" fill="#fff" opacity="0.34"/>
<circle cx="169.9" cy="645" r="1.4" fill="#fff" opacity="0.48"/>
<circle cx="86.1" cy="683.1" r="1.4" fill="#fff" opacity="0.81"/>
<circle cx="250.4" cy="758.1" r="1" fill="#fff" opacity="0.39"/>
<circle cx="170.5" cy="644.1" r="0.7" fill="#fff" opacity="0.56"/>
<circle cx="252.1" cy="692.2" r="0.8" fill="#fff" opacity="0.60"/>
<circle cx="235.5" cy="774.1" r="1.1" fill="#fff" opacity="0.49"/>
<circle cx="235.6" cy="776.2" r="0.8" fill="#fff" opacity="0.32"/>
<circle cx="81.8" cy="750" r="1.4" fill="#fff" opacity="0.49"/>
<circle cx="78.2" cy="668.2" r="0.9" fill="#fff" opacity="0.56"/>
<circle cx="58.9" cy="704.9" r="0.8" fill="#fff" opacity="0.64"/>
<circle cx="156.3" cy="630.4" r="0.9" fill="#fff" opacity="0.56"/>
<circle cx="88.1" cy="656.8" r="0.9" fill="#fff" opacity="0.32"/>
<circle cx="81.5" cy="663.8" r="0.8" fill="#fff" opacity="0.49"/>
<circle cx="169.6" cy="631.4" r="0.8" fill="#fff" opacity="0.64"/>
<circle cx="56.2" cy="721.3" r="1.4" fill="#fff" opacity="0.21"/>
<circle cx="270.3" cy="756.8" r="0.9" fill="#fff" opacity="0.31"/>
<circle cx="277.8" cy="738.2" r="0.9" fill="#fff" opacity="0.23"/>
<circle cx="262.9" cy="770.4" r="1.4" fill="#fff" opacity="0.27"/>
<circle cx="178.1" cy="815.6" r="0.9" fill="#fff" opacity="0.29"/>
<circle cx="105.4" cy="799.3" r="1.4" fill="#fff" opacity="0.25"/>
<circle cx="243.6" cy="654.7" r="1.1" fill="#fff" opacity="0.58"/>
<circle cx="180.4" cy="631.6" r="1" fill="#fff" opacity="0.39"/>
<circle cx="161.6" cy="815.2" r="1.4" fill="#fff" opacity="0.58"/>
<circle cx="76.4" cy="670.2" r="0.9" fill="#fff" opacity="0.45"/>
<circle cx="164.6" cy="629.2" r="0.9" fill="#fff" opacity="0.46"/>
<circle cx="59.4" cy="744.3" r="0.9" fill="#fff" opacity="0.23"/>
<circle cx="263.1" cy="768.1" r="1.4" fill="#fff" opacity="0.41"/>
<circle cx="216.8" cy="640.1" r="0.7" fill="#fff" opacity="0.23"/>
<circle cx="192.8" cy="812.4" r="0.9" fill="#fff" opacity="0.42"/>
<circle cx="177.2" cy="630.7" r="0.9" fill="#fff" opacity="0.32"/>
<circle cx="236.2" cy="794.1" r="0.9" fill="#fff" opacity="0.62"/>
<circle cx="117.8" cy="806.6" r="1" fill="#fff" opacity="0.46"/>
<circle cx="266.1" cy="676.3" r="1" fill="#fff" opacity="0.44"/>
<circle cx="277.9" cy="718.1" r="1" fill="#fff" opacity="0.34"/>
<circle cx="75.8" cy="778.1" r="0.8" fill="#fff" opacity="0.23"/>
<circle cx="219.7" cy="641.7" r="0.7" fill="#fff" opacity="0.36"/>
<circle cx="79.3" cy="778.6" r="1.1" fill="#fff" opacity="0.36"/>
<circle cx="81" cy="781.6" r="0.8" fill="#fff" opacity="0.58"/>
<circle cx="63.7" cy="686.7" r="0.9" fill="#fff" opacity="0.57"/>
<circle cx="187.6" cy="814.8" r="0.7" fill="#fff" opacity="0.45"/>
<circle cx="64.5" cy="683.9" r="1" fill="#fff" opacity="0.22"/>
<circle cx="60.9" cy="695.8" r="1.1" fill="#fff" opacity="0.23"/>
<circle cx="264.3" cy="767.8" r="0.7" fill="#fff" opacity="0.20"/>
<circle cx="104.9" cy="648.1" r="0.7" fill="#fff" opacity="0.54"/>
<circle cx="101.2" cy="648" r="1.1" fill="#fff" opacity="0.35"/>
<circle cx="58.9" cy="746.2" r="0.9" fill="#fff" opacity="0.35"/>
<circle cx="276.1" cy="704.3" r="1.1" fill="#fff" opacity="0.57"/>
<circle cx="266.6" cy="762.8" r="1.1" fill="#fff" opacity="0.62"/>
<circle cx="48.7" cy="785.9" r="0.7" fill="#fff" opacity="0.36"/>
<circle cx="236.8" cy="621.1" r="1" fill="#fff" opacity="0.41"/>
<circle cx="79.5" cy="632.1" r="0.7" fill="#fff" opacity="0.25"/>
<circle cx="45" cy="779.2" r="0.8" fill="#fff" opacity="0.20"/>
<circle cx="239.9" cy="822.7" r="0.9" fill="#fff" opacity="0.18"/>
<circle cx="43.9" cy="775.9" r="0.9" fill="#fff" opacity="0.20"/>
<circle cx="271.5" cy="645.7" r="0.9" fill="#fff" opacity="0.32"/>
<circle cx="190" cy="605.3" r="0.8" fill="#fff" opacity="0.39"/>
<circle cx="170.1" cy="603" r="0.7" fill="#fff" opacity="0.22"/>
<circle cx="212.4" cy="834.7" r="0.9" fill="#fff" opacity="0.19"/>
<circle cx="180" cy="840.3" r="0.8" fill="#fff" opacity="0.25"/>
<circle cx="276.3" cy="650.3" r="1" fill="#fff" opacity="0.17"/>
<circle cx="173.9" cy="604.6" r="1.1" fill="#fff" opacity="0.27"/>
<circle cx="158.1" cy="841.8" r="1" fill="#fff" opacity="0.39"/>
<circle cx="92.2" cy="819.9" r="1" fill="#fff" opacity="0.38"/>
<circle cx="55.3" cy="792.1" r="0.8" fill="#fff" opacity="0.40"/>
<circle cx="211.3" cy="610.9" r="1.1" fill="#fff" opacity="0.35"/>
<circle cx="200.2" cy="606.6" r="0.7" fill="#fff" opacity="0.32"/>
<circle cx="178.2" cy="841.7" r="0.9" fill="#fff" opacity="0.26"/>
<circle cx="170.3" cy="841" r="1" fill="#fff" opacity="0.30"/>
<circle cx="244.3" cy="821.8" r="0.9" fill="#fff" opacity="0.39"/>
<circle cx="218.9" cy="611.7" r="0.8" fill="#fff" opacity="0.31"/>
<circle cx="306.6" cy="717.4" r="0.8" fill="#fff" opacity="0.29"/>
<circle cx="228.5" cy="830.2" r="0.8" fill="#fff" opacity="0.37"/>
<circle cx="246.7" cy="624.9" r="0.9" fill="#fff" opacity="0.31"/>
<circle cx="30.3" cy="701.9" r="1" fill="#fff" opacity="0.33"/>
</g>
<g filter="url(#eb0)" fill="#fff">
<circle cx="214.4" cy="747.2" r="0.8" opacity="0.15"/>
<circle cx="187.5" cy="767.1" r="0.7" opacity="0.34"/>
<circle cx="177.9" cy="674.1" r="0.8" opacity="0.28"/>
<circle cx="115.4" cy="704.9" r="1" opacity="0.33"/>
<circle cx="217.3" cy="743" r="0.9" opacity="0.34"/>
<circle cx="166.1" cy="672.6" r="0.9" opacity="0.18"/>
<circle cx="115.1" cy="739.6" r="0.8" opacity="0.23"/>
<circle cx="207.4" cy="754.1" r="0.9" opacity="0.39"/>
<circle cx="197.4" cy="681.8" r="0.7" opacity="0.32"/>
<circle cx="167.2" cy="671.1" r="0.8" opacity="0.17"/>
<circle cx="187.5" cy="768" r="0.8" opacity="0.17"/>
<circle cx="147.5" cy="768.5" r="0.9" opacity="0.27"/>
<circle cx="126.2" cy="756.7" r="0.6" opacity="0.32"/>
<circle cx="203.8" cy="758.6" r="0.7" opacity="0.15"/>
<circle cx="114.9" cy="733.8" r="0.9" opacity="0.17"/>
<circle cx="174.5" cy="673.4" r="0.7" opacity="0.38"/>
<circle cx="216.4" cy="700.3" r="0.7" opacity="0.34"/>
<circle cx="112.8" cy="727.9" r="1" opacity="0.32"/>
<circle cx="159.6" cy="674.1" r="0.9" opacity="0.21"/>
<circle cx="114" cy="713.2" r="0.7" opacity="0.27"/>
<circle cx="115.8" cy="704.8" r="0.7" opacity="0.24"/>
<circle cx="152.3" cy="771.6" r="0.7" opacity="0.30"/>
<circle cx="150.7" cy="770.8" r="0.7" opacity="0.32"/>
<circle cx="113.8" cy="718.4" r="1" opacity="0.43"/>
<circle cx="152.8" cy="675" r="1" opacity="0.30"/>
<circle cx="201.8" cy="758.8" r="0.8" opacity="0.26"/>
<circle cx="139.1" cy="767" r="0.7" opacity="0.39"/>
<circle cx="114.3" cy="737.5" r="0.9" opacity="0.21"/>
<circle cx="118.4" cy="701.7" r="1" opacity="0.19"/>
<circle cx="165.8" cy="673" r="1" opacity="0.24"/>
<circle cx="200.5" cy="761.9" r="0.9" opacity="0.25"/>
<circle cx="170.1" cy="673" r="0.7" opacity="0.19"/>
<circle cx="122.5" cy="693.7" r="0.8" opacity="0.37"/>
<circle cx="215.4" cy="701.8" r="1" opacity="0.18"/>
<circle cx="169.4" cy="671.6" r="0.8" opacity="0.32"/>
<circle cx="171.7" cy="675" r="0.7" opacity="0.26"/>
<circle cx="122.3" cy="750.1" r="0.7" opacity="0.18"/>
<circle cx="169.3" cy="772.4" r="0.9" opacity="0.35"/>
<circle cx="179.9" cy="674.4" r="0.8" opacity="0.28"/>
<circle cx="209.7" cy="751.5" r="1" opacity="0.30"/>
<circle cx="120.4" cy="750.9" r="0.7" opacity="0.40"/>
<circle cx="113.1" cy="734.1" r="0.9" opacity="0.18"/>
<circle cx="207.4" cy="754.6" r="1" opacity="0.24"/>
<circle cx="113.7" cy="716.1" r="1" opacity="0.23"/>
<circle cx="126.8" cy="689.3" r="0.8" opacity="0.25"/>
<circle cx="143.3" cy="767.6" r="1" opacity="0.21"/>
<circle cx="196.4" cy="683.2" r="0.7" opacity="0.39"/>
<circle cx="213.2" cy="695.9" r="0.8" opacity="0.33"/>
<circle cx="161.1" cy="676.1" r="0.9" opacity="0.25"/>
<circle cx="115.8" cy="708.5" r="0.9" opacity="0.26"/>
<circle cx="206.1" cy="756.9" r="0.6" opacity="0.29"/>
<circle cx="205.2" cy="759.4" r="0.8" opacity="0.23"/>
<circle cx="160" cy="674.3" r="0.6" opacity="0.19"/>
<circle cx="117.9" cy="740.1" r="0.7" opacity="0.34"/>
<circle cx="173.9" cy="772.2" r="0.7" opacity="0.27"/>
<circle cx="146.2" cy="767.9" r="0.9" opacity="0.36"/>
<circle cx="207" cy="687.9" r="0.7" opacity="0.39"/>
<circle cx="147.8" cy="675.3" r="0.9" opacity="0.40"/>
<circle cx="131.8" cy="685.6" r="0.8" opacity="0.21"/>
<circle cx="189.4" cy="678" r="1" opacity="0.22"/>
<circle cx="119" cy="746.6" r="1" opacity="0.36"/>
<circle cx="121.1" cy="747.4" r="0.7" opacity="0.39"/>
<circle cx="206.5" cy="756.4" r="0.9" opacity="0.29"/>
<circle cx="152.2" cy="769.3" r="0.7" opacity="0.37"/>
<circle cx="112.7" cy="714.8" r="1" opacity="0.40"/>
<circle cx="190.6" cy="768.3" r="0.7" opacity="0.18"/>
<circle cx="140.7" cy="679.7" r="1" opacity="0.16"/>
<circle cx="212.7" cy="695.2" r="0.6" opacity="0.31"/>
<circle cx="115.7" cy="711.3" r="0.7" opacity="0.42"/>
<circle cx="187.7" cy="769.2" r="0.7" opacity="0.35"/>
<circle cx="210.3" cy="693.2" r="0.8" opacity="0.40"/>
<circle cx="118.5" cy="696.1" r="0.6" opacity="0.16"/>
<circle cx="176.4" cy="673.6" r="1" opacity="0.23"/>
<circle cx="112.4" cy="727.7" r="0.9" opacity="0.32"/>
<circle cx="165.4" cy="674.4" r="0.9" opacity="0.17"/>
<circle cx="117.7" cy="741.9" r="0.9" opacity="0.30"/>
<circle cx="165.2" cy="771.7" r="0.7" opacity="0.30"/>
<circle cx="198.9" cy="684.2" r="0.8" opacity="0.22"/>
<circle cx="183.4" cy="770.2" r="0.8" opacity="0.39"/>
<circle cx="142.7" cy="766.6" r="0.8" opacity="0.32"/>
<circle cx="185.5" cy="677.6" r="0.9" opacity="0.15"/>
<circle cx="208.2" cy="755.1" r="0.7" opacity="0.32"/>
<circle cx="119.9" cy="698.9" r="0.6" opacity="0.26"/>
<circle cx="149.6" cy="677.2" r="0.9" opacity="0.35"/>
<circle cx="177.7" cy="673.7" r="0.9" opacity="0.29"/>
<circle cx="128.9" cy="755.8" r="0.7" opacity="0.28"/>
<circle cx="138.5" cy="681.6" r="0.7" opacity="0.28"/>
<circle cx="150.3" cy="676.1" r="0.9" opacity="0.42"/>
<circle cx="204.9" cy="758.4" r="0.7" opacity="0.35"/>
<circle cx="115" cy="716" r="1" opacity="0.14"/>
<circle cx="121.9" cy="748.9" r="0.8" opacity="0.28"/>
<circle cx="126.1" cy="690.4" r="0.9" opacity="0.26"/>
<circle cx="214.3" cy="748.3" r="0.7" opacity="0.23"/>
<circle cx="196.1" cy="764.1" r="0.8" opacity="0.43"/>
<circle cx="163.2" cy="675.3" r="1" opacity="0.41"/>
<circle cx="190.8" cy="766.1" r="0.9" opacity="0.41"/>
<circle cx="179.6" cy="770.5" r="0.8" opacity="0.21"/>
<circle cx="181.9" cy="674.5" r="0.9" opacity="0.28"/>
<circle cx="124.6" cy="750.7" r="0.8" opacity="0.28"/>
<circle cx="130" cy="687.8" r="0.7" opacity="0.28"/>
<circle cx="115" cy="710.1" r="0.7" opacity="0.41"/>
<circle cx="127.8" cy="688.2" r="0.8" opacity="0.35"/>
<circle cx="114.6" cy="718.8" r="0.7" opacity="0.17"/>
<circle cx="159.8" cy="673.3" r="0.7" opacity="0.38"/>
<circle cx="206.6" cy="755.9" r="1" opacity="0.38"/>
<circle cx="115" cy="738.1" r="0.7" opacity="0.39"/>
<circle cx="141.3" cy="679.9" r="0.7" opacity="0.32"/>
<circle cx="112.6" cy="726.1" r="0.7" opacity="0.20"/>
<circle cx="120.3" cy="749.5" r="0.8" opacity="0.34"/>
<circle cx="114.2" cy="717.3" r="0.8" opacity="0.25"/>
<circle cx="206.7" cy="688.8" r="0.9" opacity="0.29"/>
<circle cx="114.9" cy="738.3" r="0.7" opacity="0.17"/>
<circle cx="129.3" cy="759.3" r="0.8" opacity="0.18"/>
<circle cx="198.7" cy="682.1" r="0.6" opacity="0.36"/>
<circle cx="165" cy="674.2" r="0.9" opacity="0.16"/>
<circle cx="199.4" cy="683.7" r="0.6" opacity="0.36"/>
<circle cx="129.4" cy="757.5" r="0.9" opacity="0.22"/>
<circle cx="184.2" cy="674.4" r="0.8" opacity="0.41"/>
<circle cx="155.4" cy="771.8" r="0.9" opacity="0.21"/>
<circle cx="216.3" cy="699.9" r="0.7" opacity="0.35"/>
<circle cx="111.7" cy="715.9" r="0.9" opacity="0.40"/>
<circle cx="188.4" cy="668.8" r="0.9" opacity="0.19"/>
<circle cx="222.4" cy="692.9" r="1" opacity="0.15"/>
<circle cx="221.9" cy="691" r="0.8" opacity="0.32"/>
<circle cx="147.7" cy="777" r="0.9" opacity="0.33"/>
<circle cx="225.7" cy="748.3" r="0.7" opacity="0.19"/>
<circle cx="192.9" cy="669.3" r="1" opacity="0.27"/>
<circle cx="120.4" cy="760" r="0.6" opacity="0.29"/>
<circle cx="181.1" cy="781" r="0.6" opacity="0.13"/>
<circle cx="105.9" cy="707.2" r="0.6" opacity="0.23"/>
<circle cx="106.7" cy="740.4" r="1" opacity="0.21"/>
<circle cx="188.4" cy="668.3" r="0.8" opacity="0.23"/>
<circle cx="116.9" cy="687" r="0.7" opacity="0.24"/>
<circle cx="225.3" cy="696.4" r="1" opacity="0.12"/>
<circle cx="105" cy="705.4" r="0.6" opacity="0.32"/>
<circle cx="213.9" cy="685.1" r="0.9" opacity="0.31"/>
<circle cx="161.6" cy="780.2" r="0.9" opacity="0.17"/>
<circle cx="116.3" cy="757.7" r="0.7" opacity="0.17"/>
<circle cx="200.8" cy="770.8" r="0.9" opacity="0.19"/>
<circle cx="111" cy="752.7" r="0.7" opacity="0.28"/>
<circle cx="103.9" cy="723.1" r="0.9" opacity="0.34"/>
<circle cx="162.4" cy="665.7" r="1" opacity="0.36"/>
<circle cx="194.1" cy="669.2" r="0.9" opacity="0.24"/>
<circle cx="140" cy="670.9" r="0.6" opacity="0.27"/>
<circle cx="113.5" cy="752.1" r="0.8" opacity="0.30"/>
<circle cx="145.1" cy="668.2" r="0.7" opacity="0.27"/>
<circle cx="124.4" cy="765" r="0.9" opacity="0.17"/>
<circle cx="109" cy="700.2" r="0.7" opacity="0.36"/>
<circle cx="126.1" cy="676.7" r="0.7" opacity="0.16"/>
<circle cx="187.1" cy="778.8" r="0.8" opacity="0.19"/>
<circle cx="129.6" cy="674.3" r="0.9" opacity="0.31"/>
<circle cx="224.6" cy="697.2" r="0.7" opacity="0.19"/>
<circle cx="166.5" cy="779.7" r="0.9" opacity="0.15"/>
<circle cx="202" cy="770" r="1" opacity="0.33"/>
<circle cx="189.1" cy="775.9" r="0.9" opacity="0.22"/>
<circle cx="221.1" cy="689.3" r="0.9" opacity="0.33"/>
<circle cx="198.2" cy="774.3" r="0.9" opacity="0.28"/>
<circle cx="177.9" cy="780" r="0.9" opacity="0.22"/>
<circle cx="206.6" cy="766.4" r="0.7" opacity="0.19"/>
<circle cx="209.6" cy="680.1" r="0.8" opacity="0.32"/>
<circle cx="105.6" cy="701.9" r="0.8" opacity="0.16"/>
<circle cx="214.1" cy="685" r="0.7" opacity="0.26"/>
<circle cx="157.9" cy="778.9" r="0.6" opacity="0.17"/>
<circle cx="106.1" cy="703.9" r="0.8" opacity="0.16"/>
<circle cx="133.6" cy="773.1" r="1" opacity="0.22"/>
<circle cx="130" cy="767.9" r="0.7" opacity="0.27"/>
<circle cx="196.9" cy="671.8" r="0.7" opacity="0.17"/>
<circle cx="151.1" cy="778.4" r="0.8" opacity="0.35"/>
<circle cx="208" cy="676.3" r="0.9" opacity="0.19"/>
<circle cx="106.1" cy="702.3" r="1" opacity="0.14"/>
<circle cx="124.8" cy="766.3" r="0.9" opacity="0.18"/>
<circle cx="169.3" cy="781.4" r="0.7" opacity="0.25"/>
<circle cx="135.3" cy="673.1" r="0.9" opacity="0.30"/>
<circle cx="113.4" cy="754" r="1" opacity="0.27"/>
<circle cx="156.9" cy="664.7" r="0.8" opacity="0.19"/>
<circle cx="143.3" cy="775.2" r="0.6" opacity="0.28"/>
<circle cx="114.2" cy="690.3" r="0.7" opacity="0.13"/>
<circle cx="211.4" cy="765.4" r="0.7" opacity="0.17"/>
<circle cx="130.2" cy="770.3" r="0.7" opacity="0.13"/>
<circle cx="114.9" cy="757.1" r="0.6" opacity="0.14"/>
<circle cx="197.1" cy="775.1" r="0.8" opacity="0.20"/>
<circle cx="103.6" cy="732.2" r="1" opacity="0.24"/>
<circle cx="179.7" cy="664.2" r="0.6" opacity="0.21"/>
<circle cx="222.4" cy="695.6" r="1" opacity="0.31"/>
<circle cx="102.3" cy="713.1" r="0.9" opacity="0.34"/>
<circle cx="120.2" cy="684.3" r="0.9" opacity="0.22"/>
<circle cx="225.5" cy="695.6" r="0.9" opacity="0.22"/>
<circle cx="103.4" cy="734.6" r="0.9" opacity="0.24"/>
<circle cx="122.1" cy="763" r="1" opacity="0.25"/>
<circle cx="106.3" cy="739.8" r="0.7" opacity="0.13"/>
<circle cx="136.6" cy="774.5" r="0.7" opacity="0.27"/>
<circle cx="191" cy="774.7" r="0.6" opacity="0.35"/>
<circle cx="168.5" cy="664.4" r="1" opacity="0.15"/>
<circle cx="192.7" cy="777.4" r="0.7" opacity="0.15"/>
<circle cx="217.4" cy="757.2" r="0.7" opacity="0.18"/>
<circle cx="193.1" cy="776.4" r="0.8" opacity="0.20"/>
<circle cx="184.3" cy="778.5" r="0.6" opacity="0.22"/>
<circle cx="102.7" cy="726.5" r="0.6" opacity="0.23"/>
<circle cx="170.1" cy="665" r="1" opacity="0.14"/>
<circle cx="101.2" cy="723.8" r="1" opacity="0.14"/>
<circle cx="191.6" cy="668.6" r="1" opacity="0.35"/>
<circle cx="179.6" cy="780.1" r="0.7" opacity="0.22"/>
<circle cx="117.9" cy="683.4" r="0.8" opacity="0.24"/>
<circle cx="222" cy="753.1" r="0.9" opacity="0.25"/>
<circle cx="140.2" cy="777.9" r="0.8" opacity="0.36"/>
<circle cx="121.7" cy="762" r="0.9" opacity="0.29"/>
<circle cx="204" cy="673.4" r="0.7" opacity="0.17"/>
<circle cx="173.8" cy="665.5" r="0.7" opacity="0.26"/>
<circle cx="131.2" cy="771.2" r="0.8" opacity="0.19"/>
<circle cx="154.3" cy="665.6" r="0.9" opacity="0.30"/>
<circle cx="187.2" cy="778.2" r="0.7" opacity="0.27"/>
<circle cx="155.5" cy="779.7" r="0.7" opacity="0.15"/>
<circle cx="219.3" cy="754.4" r="0.8" opacity="0.15"/>
<circle cx="213" cy="762.8" r="1" opacity="0.35"/>
<circle cx="248" cy="759.5" r="0.8" opacity="0.15"/>
<circle cx="88.9" cy="762.8" r="0.7" opacity="0.24"/>
<circle cx="106.1" cy="780.5" r="0.9" opacity="0.16"/>
<circle cx="118.2" cy="654.3" r="0.6" opacity="0.23"/>
<circle cx="229.4" cy="662.9" r="0.8" opacity="0.16"/>
<circle cx="242.1" cy="770.6" r="0.6" opacity="0.24"/>
<circle cx="80.5" cy="745.1" r="0.7" opacity="0.27"/>
<circle cx="137.3" cy="647.5" r="1" opacity="0.28"/>
<circle cx="231.4" cy="666.2" r="0.6" opacity="0.14"/>
<circle cx="75.9" cy="719.7" r="0.8" opacity="0.24"/>
<circle cx="190.2" cy="645.8" r="0.8" opacity="0.15"/>
<circle cx="78.1" cy="702.1" r="1" opacity="0.24"/>
<circle cx="190.4" cy="645.8" r="1" opacity="0.21"/>
<circle cx="89.7" cy="683.6" r="0.8" opacity="0.13"/>
<circle cx="192.8" cy="646.6" r="0.6" opacity="0.31"/>
<circle cx="136.5" cy="647.5" r="0.9" opacity="0.31"/>
<circle cx="78.8" cy="735.1" r="1" opacity="0.20"/>
<circle cx="218.2" cy="787.5" r="0.9" opacity="0.29"/>
<circle cx="239.2" cy="772.9" r="0.8" opacity="0.22"/>
<circle cx="82" cy="691.3" r="0.9" opacity="0.21"/>
<circle cx="134.1" cy="796.5" r="0.7" opacity="0.16"/>
<circle cx="92.6" cy="681.6" r="0.8" opacity="0.14"/>
<circle cx="240.7" cy="771.2" r="0.7" opacity="0.29"/>
<circle cx="200.8" cy="649.6" r="0.8" opacity="0.14"/>
<circle cx="99.5" cy="669.2" r="1" opacity="0.25"/>
<circle cx="235" cy="776.4" r="0.9" opacity="0.13"/>
<circle cx="160" cy="644.5" r="0.8" opacity="0.17"/>
<circle cx="100.5" cy="669.6" r="1" opacity="0.22"/>
<circle cx="174.6" cy="643" r="0.9" opacity="0.19"/>
<circle cx="139.1" cy="798" r="0.9" opacity="0.19"/>
<circle cx="241.3" cy="673.5" r="0.7" opacity="0.31"/>
<circle cx="79.9" cy="692.6" r="1" opacity="0.13"/>
<circle cx="100.8" cy="664.7" r="0.7" opacity="0.23"/>
<circle cx="184.8" cy="801.8" r="0.8" opacity="0.24"/>
<circle cx="120.5" cy="791.6" r="0.6" opacity="0.17"/>
<circle cx="76.5" cy="707.1" r="0.7" opacity="0.28"/>
<circle cx="125.1" cy="651.3" r="0.9" opacity="0.11"/>
<circle cx="108" cy="784.5" r="0.8" opacity="0.26"/>
<circle cx="103.2" cy="778.6" r="0.8" opacity="0.13"/>
<circle cx="132.3" cy="650" r="1" opacity="0.25"/>
<circle cx="217" cy="655.3" r="0.7" opacity="0.27"/>
<circle cx="172.2" cy="643.1" r="0.7" opacity="0.28"/>
<circle cx="187.9" cy="797.8" r="1" opacity="0.24"/>
<circle cx="103.7" cy="778.2" r="0.6" opacity="0.23"/>
<circle cx="242.1" cy="767.5" r="0.7" opacity="0.11"/>
<circle cx="222" cy="786.6" r="0.7" opacity="0.16"/>
<circle cx="148.5" cy="801.1" r="0.8" opacity="0.12"/>
<circle cx="226.6" cy="782.9" r="0.7" opacity="0.26"/>
<circle cx="99.3" cy="669.7" r="0.8" opacity="0.28"/>
<circle cx="76.8" cy="732.7" r="0.7" opacity="0.24"/>
<circle cx="246.3" cy="681.5" r="0.6" opacity="0.25"/>
<circle cx="225.5" cy="782.9" r="0.9" opacity="0.25"/>
<circle cx="195.7" cy="649.6" r="0.9" opacity="0.28"/>
<circle cx="110" cy="785.3" r="0.9" opacity="0.19"/>
<circle cx="134.5" cy="650.3" r="0.9" opacity="0.13"/>
<circle cx="229.9" cy="663.6" r="0.7" opacity="0.30"/>
<circle cx="219.3" cy="788.3" r="0.7" opacity="0.19"/>
<circle cx="241.1" cy="674.3" r="0.9" opacity="0.21"/>
<circle cx="82.8" cy="753" r="0.9" opacity="0.21"/>
<circle cx="78" cy="731.3" r="0.9" opacity="0.17"/>
<circle cx="207.9" cy="652.3" r="0.9" opacity="0.25"/>
<circle cx="80.2" cy="745.3" r="0.8" opacity="0.20"/>
<circle cx="179.5" cy="643.2" r="0.8" opacity="0.12"/>
<circle cx="74.1" cy="727.8" r="0.9" opacity="0.18"/>
<circle cx="87.4" cy="765.8" r="0.9" opacity="0.16"/>
<circle cx="171.2" cy="802.1" r="0.7" opacity="0.30"/>
<circle cx="252.1" cy="754.2" r="0.8" opacity="0.19"/>
<circle cx="236.1" cy="776.4" r="0.7" opacity="0.24"/>
<circle cx="128.1" cy="651.7" r="1" opacity="0.18"/>
<circle cx="216.8" cy="789.1" r="0.8" opacity="0.21"/>
<circle cx="79.4" cy="748.8" r="0.7" opacity="0.16"/>
<circle cx="218.3" cy="788" r="1" opacity="0.29"/>
<circle cx="160.2" cy="644.1" r="0.7" opacity="0.14"/>
<circle cx="105" cy="780.4" r="0.9" opacity="0.27"/>
<circle cx="95.4" cy="672.5" r="0.9" opacity="0.31"/>
<circle cx="237.7" cy="772.7" r="1" opacity="0.25"/>
<circle cx="146.3" cy="799.9" r="0.8" opacity="0.16"/>
<circle cx="250.8" cy="759.6" r="1" opacity="0.14"/>
<circle cx="96.3" cy="773.2" r="0.9" opacity="0.22"/>
<circle cx="231" cy="781.6" r="0.7" opacity="0.26"/>
<circle cx="140.1" cy="646" r="0.8" opacity="0.24"/>
<circle cx="135.9" cy="795" r="0.9" opacity="0.22"/>
<circle cx="75.1" cy="732" r="0.9" opacity="0.18"/>
<circle cx="186.6" cy="799.2" r="0.9" opacity="0.29"/>
<circle cx="248.6" cy="758.2" r="0.8" opacity="0.23"/>
<circle cx="249.7" cy="687.4" r="0.6" opacity="0.30"/>
<circle cx="198.1" cy="796.2" r="0.7" opacity="0.30"/>
<circle cx="120" cy="653.9" r="0.7" opacity="0.19"/>
<circle cx="226.1" cy="786.2" r="1" opacity="0.30"/>
<circle cx="80.2" cy="702.2" r="0.8" opacity="0.25"/>
<circle cx="245.7" cy="762.9" r="1" opacity="0.29"/>
<circle cx="240" cy="768.8" r="0.7" opacity="0.15"/>
<circle cx="134.4" cy="646" r="1" opacity="0.12"/>
<circle cx="241.9" cy="675.5" r="0.7" opacity="0.15"/>
<circle cx="154.2" cy="801.5" r="0.9" opacity="0.14"/>
<circle cx="83.6" cy="757.7" r="0.9" opacity="0.23"/>
<circle cx="193.6" cy="645.3" r="1" opacity="0.17"/>
<circle cx="211.8" cy="791.6" r="0.9" opacity="0.14"/>
<circle cx="246.5" cy="681.1" r="0.7" opacity="0.31"/>
<circle cx="87.8" cy="763.4" r="0.7" opacity="0.14"/>
<circle cx="93.7" cy="673.5" r="0.9" opacity="0.12"/>
<circle cx="104.9" cy="778.6" r="1" opacity="0.15"/>
<circle cx="94.4" cy="770.8" r="0.7" opacity="0.19"/>
<circle cx="242" cy="674.9" r="0.7" opacity="0.12"/>
<circle cx="104.6" cy="780" r="0.7" opacity="0.24"/>
<circle cx="249.6" cy="689.9" r="0.8" opacity="0.15"/>
<circle cx="189.2" cy="798.5" r="1" opacity="0.14"/>
<circle cx="127" cy="651.2" r="0.8" opacity="0.23"/>
<circle cx="85.3" cy="687.1" r="0.7" opacity="0.12"/>
<circle cx="75.6" cy="717.7" r="0.9" opacity="0.15"/>
<circle cx="130.4" cy="649.6" r="0.8" opacity="0.20"/>
<circle cx="123" cy="653.5" r="0.6" opacity="0.12"/>
<circle cx="214.9" cy="653.6" r="0.9" opacity="0.15"/>
<circle cx="192.2" cy="799.8" r="1" opacity="0.12"/>
<circle cx="245.8" cy="680.8" r="1" opacity="0.19"/>
<circle cx="217.4" cy="788.9" r="0.6" opacity="0.14"/>
<circle cx="75.2" cy="726.1" r="0.7" opacity="0.13"/>
<circle cx="198" cy="647" r="0.7" opacity="0.11"/>
<circle cx="174.6" cy="801" r="0.9" opacity="0.29"/>
<circle cx="122.5" cy="654.4" r="0.7" opacity="0.26"/>
<circle cx="250.1" cy="685.5" r="1" opacity="0.26"/>
<circle cx="125.4" cy="650.2" r="0.6" opacity="0.17"/>
<circle cx="87.5" cy="683.5" r="0.9" opacity="0.20"/>
<circle cx="198.1" cy="646.7" r="0.7" opacity="0.12"/>
<circle cx="113.5" cy="655.5" r="1" opacity="0.30"/>
<circle cx="126.5" cy="651.4" r="0.7" opacity="0.31"/>
<circle cx="107.2" cy="661.4" r="1" opacity="0.23"/>
<circle cx="112.6" cy="787" r="1" opacity="0.21"/>
<circle cx="126.9" cy="650.5" r="0.8" opacity="0.23"/>
<circle cx="78.8" cy="701.3" r="0.8" opacity="0.28"/>
<circle cx="96.2" cy="670.5" r="0.6" opacity="0.11"/>
<circle cx="116.2" cy="789.9" r="0.7" opacity="0.28"/>
<circle cx="79.8" cy="691.6" r="0.9" opacity="0.16"/>
<circle cx="162.3" cy="629.8" r="0.8" opacity="0.18"/>
<circle cx="66" cy="762.3" r="0.8" opacity="0.12"/>
<circle cx="86.9" cy="658.3" r="1" opacity="0.19"/>
<circle cx="60.2" cy="740.3" r="0.9" opacity="0.24"/>
<circle cx="124.3" cy="806.9" r="0.8" opacity="0.15"/>
<circle cx="134.5" cy="635" r="0.9" opacity="0.08"/>
<circle cx="55.4" cy="734.6" r="0.6" opacity="0.21"/>
<circle cx="201.8" cy="635.6" r="0.9" opacity="0.15"/>
<circle cx="57.2" cy="723.8" r="0.9" opacity="0.18"/>
<circle cx="237.6" cy="795.9" r="0.6" opacity="0.13"/>
<circle cx="70.9" cy="676.4" r="0.7" opacity="0.19"/>
<circle cx="256.7" cy="778.1" r="0.7" opacity="0.09"/>
<circle cx="267.8" cy="763.4" r="0.7" opacity="0.19"/>
<circle cx="56.3" cy="720.8" r="1" opacity="0.19"/>
<circle cx="126.3" cy="637.4" r="0.9" opacity="0.10"/>
<circle cx="169.5" cy="815.3" r="0.9" opacity="0.13"/>
<circle cx="134.3" cy="811.3" r="0.8" opacity="0.20"/>
<circle cx="208.1" cy="634.8" r="0.8" opacity="0.19"/>
<circle cx="117.1" cy="640.4" r="0.8" opacity="0.24"/>
<circle cx="241.7" cy="652.8" r="0.7" opacity="0.13"/>
<circle cx="81.5" cy="781.4" r="0.7" opacity="0.18"/>
<circle cx="184.6" cy="631.2" r="0.9" opacity="0.21"/>
<circle cx="112.2" cy="640.2" r="0.8" opacity="0.15"/>
<circle cx="79.4" cy="779.4" r="0.7" opacity="0.16"/>
<circle cx="266.4" cy="680.2" r="0.7" opacity="0.20"/>
<circle cx="180.6" cy="813.9" r="0.7" opacity="0.15"/>
<circle cx="58.6" cy="741.6" r="0.9" opacity="0.09"/>
<circle cx="155.5" cy="814.6" r="0.7" opacity="0.09"/>
<circle cx="59" cy="703.7" r="0.8" opacity="0.09"/>
<circle cx="253.2" cy="780.8" r="0.7" opacity="0.25"/>
<circle cx="270.7" cy="760.3" r="0.6" opacity="0.21"/>
<circle cx="56.3" cy="707.2" r="0.7" opacity="0.24"/>
<circle cx="94.6" cy="791.4" r="0.7" opacity="0.24"/>
<circle cx="135.7" cy="811.7" r="0.9" opacity="0.22"/>
<circle cx="57.5" cy="704.2" r="0.9" opacity="0.23"/>
<circle cx="267.4" cy="767.7" r="0.8" opacity="0.16"/>
<circle cx="72.2" cy="768.4" r="1" opacity="0.17"/>
<circle cx="71.9" cy="674.9" r="0.6" opacity="0.11"/>
<circle cx="82.9" cy="660.5" r="0.9" opacity="0.18"/>
<circle cx="154.6" cy="814.5" r="0.6" opacity="0.09"/>
<circle cx="260" cy="669.9" r="0.8" opacity="0.08"/>
<circle cx="60.1" cy="742.4" r="1" opacity="0.16"/>
<circle cx="191.1" cy="633.6" r="0.7" opacity="0.22"/>
<circle cx="174.4" cy="815.6" r="0.6" opacity="0.18"/>
<circle cx="170.6" cy="814.1" r="0.8" opacity="0.15"/>
<circle cx="84.6" cy="784.4" r="0.8" opacity="0.12"/>
<circle cx="170.6" cy="813.2" r="0.9" opacity="0.25"/>
<circle cx="246.5" cy="655.6" r="0.7" opacity="0.09"/>
<circle cx="223.9" cy="643.6" r="0.9" opacity="0.18"/>
<circle cx="159.7" cy="629.7" r="0.6" opacity="0.10"/>
<circle cx="154.9" cy="813.9" r="0.7" opacity="0.19"/>
<circle cx="198.4" cy="810.6" r="0.6" opacity="0.23"/>
<circle cx="86.8" cy="658.1" r="0.6" opacity="0.20"/>
<circle cx="89.8" cy="658" r="0.9" opacity="0.17"/>
<circle cx="202" cy="635.1" r="1" opacity="0.23"/>
<circle cx="266.8" cy="764.5" r="0.8" opacity="0.18"/>
<circle cx="60.1" cy="748.5" r="0.8" opacity="0.10"/>
<circle cx="71.2" cy="674" r="0.9" opacity="0.18"/>
<circle cx="80.4" cy="781.2" r="0.8" opacity="0.10"/>
<circle cx="86.7" cy="785.3" r="0.9" opacity="0.13"/>
<circle cx="57" cy="723.6" r="0.6" opacity="0.12"/>
<circle cx="101.4" cy="644.6" r="0.9" opacity="0.14"/>
<circle cx="92.9" cy="792.9" r="0.8" opacity="0.12"/>
<circle cx="120.8" cy="639" r="0.6" opacity="0.21"/>
<circle cx="70.9" cy="675.4" r="0.9" opacity="0.17"/>
<circle cx="114.6" cy="805.9" r="0.8" opacity="0.16"/>
<circle cx="259.2" cy="671.6" r="1" opacity="0.19"/>
<circle cx="259.2" cy="776.6" r="0.8" opacity="0.16"/>
<circle cx="139.5" cy="811.7" r="0.6" opacity="0.17"/>
<circle cx="222.2" cy="803.2" r="0.7" opacity="0.12"/>
<circle cx="136.2" cy="632.8" r="0.8" opacity="0.17"/>
<circle cx="77.1" cy="778.6" r="0.8" opacity="0.21"/>
<circle cx="88.6" cy="656" r="0.7" opacity="0.09"/>
<circle cx="260.5" cy="673.9" r="0.9" opacity="0.09"/>
<circle cx="207.6" cy="809.1" r="0.8" opacity="0.19"/>
<circle cx="138.7" cy="812" r="0.7" opacity="0.19"/>
<circle cx="95.6" cy="792.2" r="1" opacity="0.22"/>
<circle cx="133.2" cy="632.6" r="0.6" opacity="0.23"/>
<circle cx="193.7" cy="632.9" r="0.7" opacity="0.17"/>
<circle cx="76.9" cy="666.4" r="0.7" opacity="0.19"/>
<circle cx="266.1" cy="678.6" r="0.7" opacity="0.11"/>
<circle cx="76" cy="672.9" r="0.9" opacity="0.16"/>
<circle cx="79.9" cy="666.7" r="0.7" opacity="0.22"/>
<circle cx="55.2" cy="734.8" r="0.6" opacity="0.16"/>
<circle cx="112.3" cy="640.8" r="0.9" opacity="0.19"/>
<circle cx="175.6" cy="628.9" r="0.8" opacity="0.17"/>
<circle cx="82.7" cy="783.2" r="1" opacity="0.18"/>
<circle cx="63.1" cy="692.2" r="0.6" opacity="0.11"/>
<circle cx="118.2" cy="637.5" r="0.7" opacity="0.09"/>
<circle cx="167.5" cy="815.6" r="0.6" opacity="0.23"/>
<circle cx="132.7" cy="811.5" r="0.8" opacity="0.11"/>
<circle cx="219.2" cy="804.5" r="0.7" opacity="0.10"/>
<circle cx="118" cy="639" r="1" opacity="0.23"/>
<circle cx="201.9" cy="633.2" r="0.8" opacity="0.20"/>
<circle cx="171.4" cy="815.4" r="0.7" opacity="0.16"/>
<circle cx="68.9" cy="680.8" r="1" opacity="0.22"/>
<circle cx="229.8" cy="646.2" r="0.8" opacity="0.19"/>
<circle cx="61" cy="747.3" r="1" opacity="0.17"/>
<circle cx="59" cy="743.9" r="0.7" opacity="0.24"/>
<circle cx="284.2" cy="785.9" r="0.8" opacity="0.12"/>
<circle cx="264.6" cy="637.6" r="0.7" opacity="0.06"/>
<circle cx="31.6" cy="697.2" r="0.8" opacity="0.06"/>
<circle cx="132.9" cy="838.4" r="0.7" opacity="0.15"/>
<circle cx="28.9" cy="698.6" r="0.9" opacity="0.13"/>
<circle cx="168" cy="602.6" r="0.8" opacity="0.16"/>
<circle cx="277.1" cy="651.2" r="0.6" opacity="0.13"/>
<circle cx="293.4" cy="771.7" r="0.9" opacity="0.08"/>
<circle cx="26.3" cy="722.9" r="0.9" opacity="0.16"/>
<circle cx="289.7" cy="666.8" r="0.8" opacity="0.05"/>
<circle cx="142.2" cy="604.6" r="0.7" opacity="0.09"/>
<circle cx="228.6" cy="828.2" r="1" opacity="0.11"/>
<circle cx="207.7" cy="608.4" r="0.7" opacity="0.07"/>
<circle cx="89.9" cy="820.8" r="0.9" opacity="0.12"/>
<circle cx="158.8" cy="605.9" r="1" opacity="0.12"/>
<circle cx="160.4" cy="606.4" r="0.7" opacity="0.06"/>
<circle cx="121.5" cy="832.3" r="1" opacity="0.12"/>
<circle cx="61.6" cy="798.9" r="0.9" opacity="0.06"/>
<circle cx="50.7" cy="658.9" r="0.7" opacity="0.07"/>
<circle cx="288.3" cy="781.5" r="0.8" opacity="0.15"/>
<circle cx="95.7" cy="618.9" r="0.6" opacity="0.12"/>
<circle cx="86.7" cy="626.9" r="0.7" opacity="0.05"/>
<circle cx="51.4" cy="784.5" r="0.8" opacity="0.07"/>
<circle cx="164.3" cy="841.7" r="0.8" opacity="0.11"/>
<circle cx="59.7" cy="798.9" r="1" opacity="0.12"/>
<circle cx="58.6" cy="648.2" r="0.9" opacity="0.12"/>
<circle cx="69.6" cy="637.7" r="0.8" opacity="0.10"/>
<circle cx="262.3" cy="808.4" r="0.8" opacity="0.08"/>
<circle cx="39.4" cy="768.8" r="0.7" opacity="0.14"/>
<circle cx="84.5" cy="818.4" r="0.6" opacity="0.08"/>
<circle cx="62.3" cy="643.6" r="0.9" opacity="0.07"/>
<circle cx="135.5" cy="607.6" r="0.7" opacity="0.09"/>
<circle cx="184.6" cy="838.7" r="0.7" opacity="0.10"/>
<circle cx="37.5" cy="768.7" r="0.6" opacity="0.14"/>
<circle cx="203.5" cy="607.5" r="0.8" opacity="0.09"/>
<circle cx="164.7" cy="603.9" r="0.7" opacity="0.16"/>
<circle cx="216.1" cy="610.4" r="0.9" opacity="0.14"/>
<circle cx="133" cy="836.9" r="0.7" opacity="0.12"/>
<circle cx="242.1" cy="823.3" r="1" opacity="0.06"/>
<circle cx="88.7" cy="627.1" r="0.7" opacity="0.08"/>
<circle cx="172.2" cy="841.4" r="0.9" opacity="0.12"/>
<circle cx="70.6" cy="637.1" r="0.9" opacity="0.09"/>
<circle cx="165.8" cy="840.5" r="0.8" opacity="0.12"/>
<circle cx="50" cy="658.7" r="0.9" opacity="0.11"/>
<circle cx="269.8" cy="641.2" r="0.7" opacity="0.10"/>
<circle cx="150.2" cy="839.5" r="0.8" opacity="0.08"/>
<circle cx="26.2" cy="725" r="0.9" opacity="0.10"/>
<circle cx="43.6" cy="665.7" r="0.7" opacity="0.15"/>
<circle cx="60.3" cy="798.3" r="0.9" opacity="0.06"/>
<circle cx="221.7" cy="833.3" r="0.8" opacity="0.12"/>
<circle cx="32.8" cy="691.4" r="0.8" opacity="0.13"/>
<circle cx="272.7" cy="801.7" r="0.9" opacity="0.12"/>
<circle cx="80.1" cy="631.6" r="0.6" opacity="0.10"/>
<circle cx="289.5" cy="664.8" r="0.9" opacity="0.07"/>
<circle cx="33.1" cy="749.5" r="0.7" opacity="0.11"/>
<circle cx="174.8" cy="841.1" r="0.9" opacity="0.13"/>
<circle cx="33.6" cy="694.6" r="0.9" opacity="0.15"/>
<circle cx="264.4" cy="805.5" r="0.8" opacity="0.12"/>
<circle cx="43.6" cy="778.8" r="0.7" opacity="0.12"/>
<circle cx="80" cy="813.5" r="0.9" opacity="0.09"/>
<circle cx="295.7" cy="673.9" r="0.7" opacity="0.08"/>
<circle cx="32" cy="755.5" r="0.9" opacity="0.15"/>
<circle cx="278.9" cy="792.1" r="0.8" opacity="0.14"/>
<circle cx="241.7" cy="822.4" r="0.9" opacity="0.14"/>
<circle cx="289.3" cy="664.3" r="0.7" opacity="0.12"/>
<circle cx="71.9" cy="807.2" r="0.7" opacity="0.06"/>
<circle cx="31.4" cy="693.2" r="0.7" opacity="0.10"/>
<circle cx="136.1" cy="837.3" r="0.8" opacity="0.14"/>
<circle cx="28.3" cy="735.9" r="1" opacity="0.07"/>
<circle cx="153.2" cy="839.4" r="0.7" opacity="0.06"/>
<circle cx="148.6" cy="603.7" r="0.8" opacity="0.08"/>
</g>
<polygon fill="#000" points="122.8,722.6 122.8,718.2 124,715.6 128.9,713.3 136.8,711.5 152.6,708.9 170.1,704.5 187.6,700.1 205.1,696.6 220,693.1 251.6,683.4 277.2,673.1 295.1,662.9 318.1,657.8 345,655 345,779.3 318.1,777.8 295.1,772.7 277.2,763.8 251.6,756.1 235.2,750.7 220,746.2 196.4,742.2 178.8,739.2 161.3,736.1 143.8,731.7 128.9,728.2 124.3,726.2 122.9,724.6" filter="url(#eb2)"/>
</g>
<text x="11.8" y="641.6" font-family="'Liberation Serif', serif" font-size="33" fill="#fff" textLength="15.2" lengthAdjust="spacingAndGlyphs" font-weight="bold">e</text>
<text x="97.1" y="659.6" font-family="'Liberation Serif', serif" font-size="13.2" fill="#dedede" textLength="31.4" lengthAdjust="spacingAndGlyphs">(111)</text>
<text x="52.4" y="677.5" font-family="'Liberation Serif', serif" font-size="13.2" fill="#dedede" textLength="31.4" lengthAdjust="spacingAndGlyphs">(200)</text>
<text x="21" y="704.6" font-family="'Liberation Serif', serif" font-size="13.2" fill="#dedede" textLength="31.4" lengthAdjust="spacingAndGlyphs">(220)</text>
<text x="14" y="737" font-family="'Liberation Serif', serif" font-size="13.2" fill="#dedede" textLength="31.5" lengthAdjust="spacingAndGlyphs">(222)</text>
<text x="14" y="780.4" font-family="'Liberation Serif', serif" font-size="13.2" fill="#dedede" textLength="32" lengthAdjust="spacingAndGlyphs">(311)</text>
<line x1="120.1" y1="662.9" x2="134.1" y2="679" stroke="#eee" stroke-width="1"/>
<polyline fill="none" stroke="#eee" stroke-width="1" points="127.3,676.3 134.1,679 132.4,671.9"/>
<line x1="81.2" y1="680" x2="103.5" y2="693.6" stroke="#eee" stroke-width="1"/>
<polyline fill="none" stroke="#eee" stroke-width="1" points="96.2,693.1 103.5,693.6 99.7,687.3"/>
<line x1="49.8" y1="705.1" x2="76.1" y2="705.1" stroke="#eee" stroke-width="1"/>
<polyline fill="none" stroke="#eee" stroke-width="1" points="69.6,708.5 76.1,705.1 69.6,701.7"/>
<line x1="45.5" y1="734.4" x2="56.2" y2="734.4" stroke="#eee" stroke-width="1"/>
<polyline fill="none" stroke="#eee" stroke-width="1" points="51.2,737.4 56.2,734.4 51.2,731.4"/>
<line x1="26.8" y1="788.8" x2="48.5" y2="788.8" stroke="#eee" stroke-width="1"/>
<polyline fill="none" stroke="#eee" stroke-width="1" points="42,792.2 48.5,788.8 42,785.4"/>
<text x="25.5" y="853.2" font-family="'DejaVu Sans Mono', 'Liberation Mono', monospace" font-size="18" fill="#f2f2f2" textLength="72.9" lengthAdjust="spacingAndGlyphs">2 1/nm</text>
<rect x="24.8" y="855.6" width="29.4" height="3" fill="#f4f4f4"/>
</g>
</svg>
</body></html>
